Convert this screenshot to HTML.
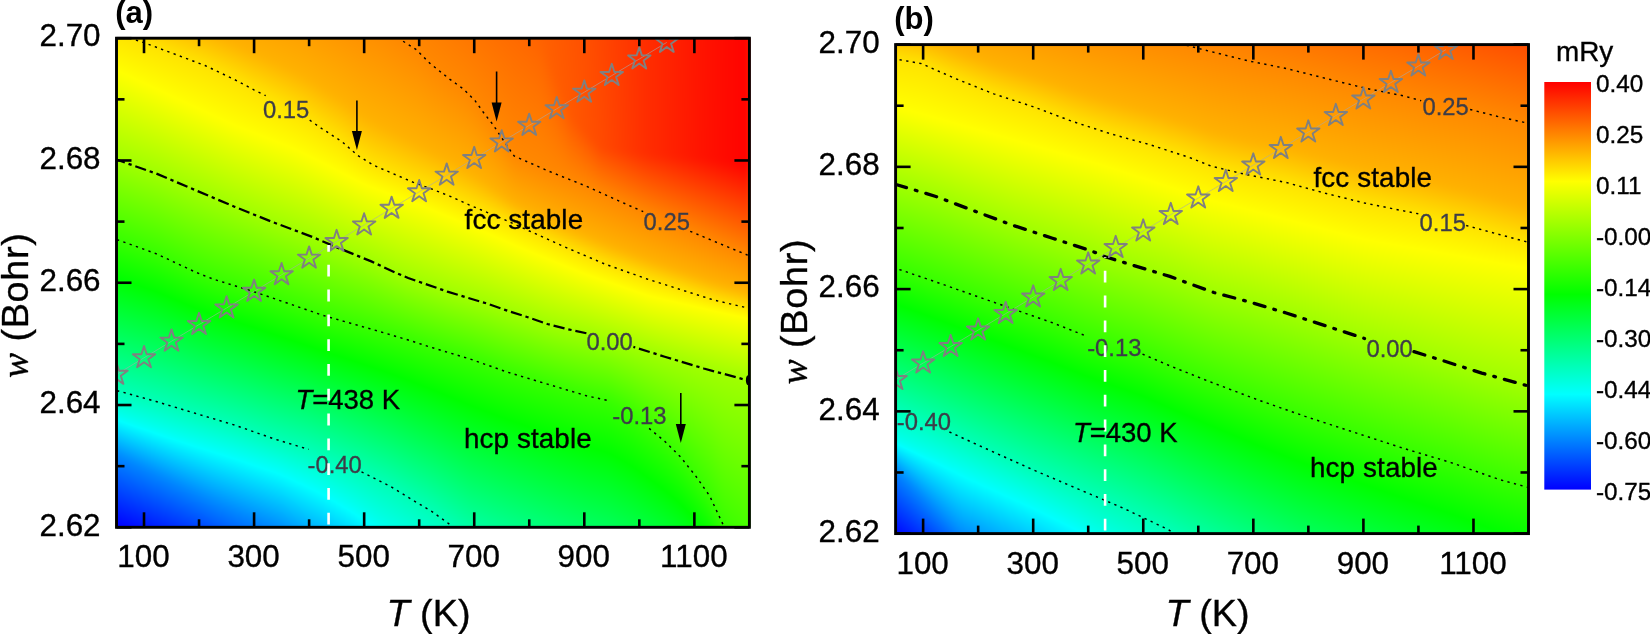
<!DOCTYPE html>
<html><head><meta charset="utf-8"><title>Contour plots</title>
<style>
html,body{margin:0;padding:0;background:#fff;}
body{width:1650px;height:634px;position:relative;overflow:hidden;}
canvas{position:absolute;left:0;top:0;}
svg{position:absolute;left:0;top:0;}
.tk{stroke:#000;stroke-width:2.6;}
.frame{fill:none;stroke:#000;stroke-width:2.9;}
.tl{stroke:#000;stroke-width:0.35px;font-family:'Liberation Sans', Arial, sans-serif;font-size:31.4px;fill:#000;}
.pl{font-family:'Liberation Sans', Arial, sans-serif;font-size:31px;font-weight:bold;fill:#000;}
.at{stroke:#000;stroke-width:0.35px;font-family:'Liberation Sans', Arial, sans-serif;font-size:37.8px;fill:#000;}
.cl{stroke:#3d3d48;stroke-width:0.3px;font-family:'Liberation Sans', Arial, sans-serif;font-size:23.8px;fill:#3d3d48;}
.tx{stroke:#000;stroke-width:0.35px;font-family:'Liberation Sans', Arial, sans-serif;font-size:27.8px;letter-spacing:0.12px;fill:#000;}
.cb{stroke:#000;stroke-width:0.35px;font-family:'Liberation Sans', Arial, sans-serif;font-size:24.3px;fill:#000;}
.mry{stroke:#000;stroke-width:0.35px;font-family:'Liberation Sans', Arial, sans-serif;font-size:27.9px;fill:#000;}
.dot{fill:none;stroke:#000;stroke-width:1.45;stroke-dasharray:2.3 4.37;}
.dda{fill:none;stroke:#000;stroke-width:2.25;stroke-dasharray:11.3 3.9 3.3 3.9;stroke-dashoffset:3;stroke-linecap:butt;}
.ddb{fill:none;stroke:#000;stroke-width:3.3;stroke-dasharray:11.3 9.25 1.7 9.25;stroke-dashoffset:28.65;stroke-linecap:round;}
.wi{font-family:'Liberation Serif',serif;font-style:italic;}
.tx2{stroke:#000;stroke-width:0.35px;font-family:'Liberation Sans', Arial, sans-serif;font-size:27.5px;fill:#000;}
.star{fill:none;stroke:#808080;stroke-width:1.9;stroke-linejoin:round;}
</style></head>
<body>
<svg class="fb" width="1650" height="634" viewBox="0 0 1650 634" style="position:absolute;left:0;top:0"><defs><linearGradient id="f0" x1="0" y1="0" x2="0" y2="1"><stop offset="0.001" stop-color="#ffe600"/><stop offset="0.075" stop-color="#fdff00"/><stop offset="0.312" stop-color="#79ff00"/><stop offset="0.500" stop-color="#00ff05"/><stop offset="0.737" stop-color="#00ffc6"/><stop offset="0.786" stop-color="#00fbff"/><stop offset="0.860" stop-color="#0086ff"/><stop offset="0.999" stop-color="#0004ff"/></linearGradient><linearGradient id="f1" x1="0" y1="0" x2="0" y2="1"><stop offset="0.001" stop-color="#ffe400"/><stop offset="0.083" stop-color="#fcff00"/><stop offset="0.320" stop-color="#77ff00"/><stop offset="0.500" stop-color="#00ff01"/><stop offset="0.737" stop-color="#00ffc1"/><stop offset="0.786" stop-color="#00fffb"/><stop offset="0.868" stop-color="#0084ff"/><stop offset="0.999" stop-color="#0008ff"/></linearGradient><linearGradient id="f2" x1="0" y1="0" x2="0" y2="1"><stop offset="0.001" stop-color="#ffe100"/><stop offset="0.091" stop-color="#fbff00"/><stop offset="0.336" stop-color="#70ff00"/><stop offset="0.508" stop-color="#00ff04"/><stop offset="0.745" stop-color="#00ffc6"/><stop offset="0.794" stop-color="#00fdff"/><stop offset="0.876" stop-color="#0083ff"/><stop offset="0.999" stop-color="#000dff"/></linearGradient><linearGradient id="f3" x1="0" y1="0" x2="0" y2="1"><stop offset="0.001" stop-color="#ffde00"/><stop offset="0.099" stop-color="#fbff00"/><stop offset="0.353" stop-color="#69ff00"/><stop offset="0.508" stop-color="#01ff00"/><stop offset="0.754" stop-color="#00ffca"/><stop offset="0.794" stop-color="#00fff9"/><stop offset="0.819" stop-color="#00e0ff"/><stop offset="0.884" stop-color="#0081ff"/><stop offset="0.999" stop-color="#0013ff"/></linearGradient><linearGradient id="f4" x1="0" y1="0" x2="0" y2="1"><stop offset="0.001" stop-color="#ffda00"/><stop offset="0.107" stop-color="#faff00"/><stop offset="0.361" stop-color="#67ff00"/><stop offset="0.516" stop-color="#00ff03"/><stop offset="0.754" stop-color="#00ffc5"/><stop offset="0.803" stop-color="#00fffe"/><stop offset="0.893" stop-color="#0080ff"/><stop offset="0.999" stop-color="#0019ff"/></linearGradient><linearGradient id="f5" x1="0" y1="0" x2="0" y2="1"><stop offset="0.001" stop-color="#ffd700"/><stop offset="0.099" stop-color="#fffd00"/><stop offset="0.345" stop-color="#74ff00"/><stop offset="0.525" stop-color="#00ff05"/><stop offset="0.762" stop-color="#00ffca"/><stop offset="0.811" stop-color="#00fcff"/><stop offset="0.901" stop-color="#007fff"/><stop offset="0.999" stop-color="#001fff"/></linearGradient><linearGradient id="f6" x1="0" y1="0" x2="0" y2="1"><stop offset="0.001" stop-color="#ffd300"/><stop offset="0.058" stop-color="#ffee00"/><stop offset="0.116" stop-color="#fcff00"/><stop offset="0.385" stop-color="#5eff00"/><stop offset="0.525" stop-color="#00ff01"/><stop offset="0.770" stop-color="#00ffce"/><stop offset="0.811" stop-color="#00fffc"/><stop offset="0.917" stop-color="#0075ff"/><stop offset="0.999" stop-color="#0025ff"/></linearGradient><linearGradient id="f7" x1="0" y1="0" x2="0" y2="1"><stop offset="0.001" stop-color="#ffcf00"/><stop offset="0.058" stop-color="#ffec00"/><stop offset="0.124" stop-color="#fcff00"/><stop offset="0.410" stop-color="#53ff00"/><stop offset="0.533" stop-color="#00ff02"/><stop offset="0.770" stop-color="#00ffc9"/><stop offset="0.819" stop-color="#00feff"/><stop offset="0.917" stop-color="#007cff"/><stop offset="0.999" stop-color="#002bff"/></linearGradient><linearGradient id="f8" x1="0" y1="0" x2="0" y2="1"><stop offset="0.001" stop-color="#ffcb00"/><stop offset="0.058" stop-color="#ffeb00"/><stop offset="0.132" stop-color="#fbff00"/><stop offset="0.443" stop-color="#43ff00"/><stop offset="0.541" stop-color="#00ff04"/><stop offset="0.778" stop-color="#00ffcd"/><stop offset="0.827" stop-color="#00faff"/><stop offset="0.934" stop-color="#0072ff"/><stop offset="0.999" stop-color="#0031ff"/></linearGradient><linearGradient id="f9" x1="0" y1="0" x2="0" y2="1"><stop offset="0.001" stop-color="#ffc700"/><stop offset="0.058" stop-color="#ffe900"/><stop offset="0.140" stop-color="#faff00"/><stop offset="0.459" stop-color="#3cff00"/><stop offset="0.549" stop-color="#00ff06"/><stop offset="0.786" stop-color="#00ffd1"/><stop offset="0.827" stop-color="#00fffe"/><stop offset="0.942" stop-color="#0071ff"/><stop offset="0.999" stop-color="#0037ff"/></linearGradient><linearGradient id="f10" x1="0" y1="0" x2="0" y2="1"><stop offset="0.001" stop-color="#ffc400"/><stop offset="0.066" stop-color="#ffea00"/><stop offset="0.148" stop-color="#f9ff00"/><stop offset="0.475" stop-color="#36ff00"/><stop offset="0.549" stop-color="#00ff01"/><stop offset="0.786" stop-color="#00ffcd"/><stop offset="0.835" stop-color="#00fbff"/><stop offset="0.950" stop-color="#0070ff"/><stop offset="0.999" stop-color="#003eff"/></linearGradient><linearGradient id="f11" x1="0" y1="0" x2="0" y2="1"><stop offset="0.001" stop-color="#ffc000"/><stop offset="0.066" stop-color="#ffe800"/><stop offset="0.148" stop-color="#fdff00"/><stop offset="0.484" stop-color="#35ff00"/><stop offset="0.557" stop-color="#00ff03"/><stop offset="0.794" stop-color="#00ffd1"/><stop offset="0.835" stop-color="#00fffd"/><stop offset="0.974" stop-color="#005dff"/><stop offset="0.999" stop-color="#0044ff"/></linearGradient><linearGradient id="f12" x1="0" y1="0" x2="0" y2="1"><stop offset="0.001" stop-color="#ffbc00"/><stop offset="0.075" stop-color="#ffe900"/><stop offset="0.156" stop-color="#fcff00"/><stop offset="0.492" stop-color="#33ff00"/><stop offset="0.565" stop-color="#00ff05"/><stop offset="0.803" stop-color="#00ffd5"/><stop offset="0.844" stop-color="#00fcff"/><stop offset="0.974" stop-color="#0065ff"/><stop offset="0.999" stop-color="#004cff"/></linearGradient><linearGradient id="f13" x1="0" y1="0" x2="0" y2="1"><stop offset="0.001" stop-color="#ffb800"/><stop offset="0.075" stop-color="#ffe700"/><stop offset="0.165" stop-color="#fbff00"/><stop offset="0.492" stop-color="#37ff00"/><stop offset="0.565" stop-color="#00ff01"/><stop offset="0.803" stop-color="#00ffd0"/><stop offset="0.844" stop-color="#00fffc"/><stop offset="0.999" stop-color="#0053ff"/></linearGradient><linearGradient id="f14" x1="0" y1="0" x2="0" y2="1"><stop offset="0.001" stop-color="#ffb500"/><stop offset="0.083" stop-color="#ffe700"/><stop offset="0.173" stop-color="#faff00"/><stop offset="0.492" stop-color="#3aff00"/><stop offset="0.574" stop-color="#00ff04"/><stop offset="0.811" stop-color="#00ffd5"/><stop offset="0.852" stop-color="#00fdff"/><stop offset="0.999" stop-color="#005aff"/></linearGradient><linearGradient id="f15" x1="0" y1="0" x2="0" y2="1"><stop offset="0.001" stop-color="#ffb200"/><stop offset="0.091" stop-color="#ffe700"/><stop offset="0.181" stop-color="#faff00"/><stop offset="0.500" stop-color="#38ff00"/><stop offset="0.574" stop-color="#01ff00"/><stop offset="0.811" stop-color="#00ffd0"/><stop offset="0.860" stop-color="#00f9ff"/><stop offset="0.999" stop-color="#0061ff"/></linearGradient><linearGradient id="f16" x1="0" y1="0" x2="0" y2="1"><stop offset="0.001" stop-color="#ffb000"/><stop offset="0.099" stop-color="#ffe800"/><stop offset="0.181" stop-color="#fdff00"/><stop offset="0.484" stop-color="#45ff00"/><stop offset="0.582" stop-color="#00ff03"/><stop offset="0.819" stop-color="#00ffd4"/><stop offset="0.860" stop-color="#00feff"/><stop offset="0.999" stop-color="#0068ff"/></linearGradient><linearGradient id="f17" x1="0" y1="0" x2="0" y2="1"><stop offset="0.001" stop-color="#ffae00"/><stop offset="0.116" stop-color="#ffeb00"/><stop offset="0.189" stop-color="#fcff00"/><stop offset="0.475" stop-color="#4eff00"/><stop offset="0.582" stop-color="#01ff00"/><stop offset="0.819" stop-color="#00ffcf"/><stop offset="0.868" stop-color="#00faff"/><stop offset="0.999" stop-color="#006eff"/></linearGradient><linearGradient id="f18" x1="0" y1="0" x2="0" y2="1"><stop offset="0.001" stop-color="#ffac00"/><stop offset="0.066" stop-color="#ffce00"/><stop offset="0.132" stop-color="#ffed00"/><stop offset="0.197" stop-color="#faff00"/><stop offset="0.467" stop-color="#56ff00"/><stop offset="0.590" stop-color="#00ff02"/><stop offset="0.827" stop-color="#00ffd3"/><stop offset="0.868" stop-color="#00fffe"/><stop offset="0.999" stop-color="#0074ff"/></linearGradient><linearGradient id="f19" x1="0" y1="0" x2="0" y2="1"><stop offset="0.001" stop-color="#ffab00"/><stop offset="0.058" stop-color="#ffc400"/><stop offset="0.132" stop-color="#ffeb00"/><stop offset="0.206" stop-color="#f9ff00"/><stop offset="0.459" stop-color="#5fff00"/><stop offset="0.598" stop-color="#00ff05"/><stop offset="0.827" stop-color="#00ffce"/><stop offset="0.876" stop-color="#00fcff"/><stop offset="0.999" stop-color="#007aff"/></linearGradient><linearGradient id="f20" x1="0" y1="0" x2="0" y2="1"><stop offset="0.001" stop-color="#ffaa00"/><stop offset="0.058" stop-color="#ffc000"/><stop offset="0.132" stop-color="#ffe900"/><stop offset="0.206" stop-color="#fcff00"/><stop offset="0.451" stop-color="#67ff00"/><stop offset="0.598" stop-color="#00ff01"/><stop offset="0.835" stop-color="#00ffd1"/><stop offset="0.876" stop-color="#00fffd"/><stop offset="0.999" stop-color="#0080ff"/></linearGradient><linearGradient id="f21" x1="0" y1="0" x2="0" y2="1"><stop offset="0.001" stop-color="#ffa800"/><stop offset="0.058" stop-color="#ffbc00"/><stop offset="0.140" stop-color="#ffea00"/><stop offset="0.214" stop-color="#fbff00"/><stop offset="0.451" stop-color="#6bff00"/><stop offset="0.606" stop-color="#00ff04"/><stop offset="0.835" stop-color="#00ffcc"/><stop offset="0.884" stop-color="#00feff"/><stop offset="0.999" stop-color="#0085ff"/></linearGradient><linearGradient id="f22" x1="0" y1="0" x2="0" y2="1"><stop offset="0.001" stop-color="#ffa700"/><stop offset="0.066" stop-color="#ffbd00"/><stop offset="0.148" stop-color="#ffea00"/><stop offset="0.222" stop-color="#f9ff00"/><stop offset="0.459" stop-color="#69ff00"/><stop offset="0.606" stop-color="#01ff00"/><stop offset="0.844" stop-color="#00ffd0"/><stop offset="0.893" stop-color="#00faff"/><stop offset="0.999" stop-color="#008bff"/></linearGradient><linearGradient id="f23" x1="0" y1="0" x2="0" y2="1"><stop offset="0.001" stop-color="#ffa500"/><stop offset="0.075" stop-color="#ffbe00"/><stop offset="0.165" stop-color="#ffed00"/><stop offset="0.222" stop-color="#fcff00"/><stop offset="0.459" stop-color="#6cff00"/><stop offset="0.615" stop-color="#00ff03"/><stop offset="0.844" stop-color="#00ffcb"/><stop offset="0.893" stop-color="#00fffe"/><stop offset="0.999" stop-color="#0092ff"/></linearGradient><linearGradient id="f24" x1="0" y1="0" x2="0" y2="1"><stop offset="0.001" stop-color="#ffa400"/><stop offset="0.075" stop-color="#ffb900"/><stop offset="0.173" stop-color="#ffee00"/><stop offset="0.230" stop-color="#fbff00"/><stop offset="0.467" stop-color="#6aff00"/><stop offset="0.615" stop-color="#01ff00"/><stop offset="0.852" stop-color="#00ffce"/><stop offset="0.901" stop-color="#00feff"/><stop offset="0.999" stop-color="#009aff"/></linearGradient><linearGradient id="f25" x1="0" y1="0" x2="0" y2="1"><stop offset="0.001" stop-color="#ffa300"/><stop offset="0.083" stop-color="#ffba00"/><stop offset="0.181" stop-color="#ffee00"/><stop offset="0.238" stop-color="#faff00"/><stop offset="0.467" stop-color="#6eff00"/><stop offset="0.623" stop-color="#00ff02"/><stop offset="0.868" stop-color="#00ffd9"/><stop offset="0.909" stop-color="#00fdff"/><stop offset="0.999" stop-color="#00a2ff"/></linearGradient><linearGradient id="f26" x1="0" y1="0" x2="0" y2="1"><stop offset="0.001" stop-color="#ffa100"/><stop offset="0.091" stop-color="#ffba00"/><stop offset="0.189" stop-color="#ffee00"/><stop offset="0.246" stop-color="#f9ff00"/><stop offset="0.484" stop-color="#66ff00"/><stop offset="0.631" stop-color="#00ff04"/><stop offset="0.893" stop-color="#00ffeb"/><stop offset="0.917" stop-color="#00fbff"/><stop offset="0.999" stop-color="#00aaff"/></linearGradient><linearGradient id="f27" x1="0" y1="0" x2="0" y2="1"><stop offset="0.001" stop-color="#ffa000"/><stop offset="0.099" stop-color="#ffba00"/><stop offset="0.206" stop-color="#fff100"/><stop offset="0.255" stop-color="#f9ff00"/><stop offset="0.500" stop-color="#5fff00"/><stop offset="0.631" stop-color="#00ff01"/><stop offset="0.925" stop-color="#00faff"/><stop offset="0.999" stop-color="#00b2ff"/></linearGradient><linearGradient id="f28" x1="0" y1="0" x2="0" y2="1"><stop offset="0.001" stop-color="#ff9e00"/><stop offset="0.107" stop-color="#ffb900"/><stop offset="0.214" stop-color="#fff100"/><stop offset="0.263" stop-color="#f8ff00"/><stop offset="0.516" stop-color="#57ff00"/><stop offset="0.639" stop-color="#00ff03"/><stop offset="0.925" stop-color="#00fffd"/><stop offset="0.999" stop-color="#00b9ff"/></linearGradient><linearGradient id="f29" x1="0" y1="0" x2="0" y2="1"><stop offset="0.001" stop-color="#ff9c00"/><stop offset="0.116" stop-color="#ffb900"/><stop offset="0.230" stop-color="#fff400"/><stop offset="0.271" stop-color="#f7ff00"/><stop offset="0.516" stop-color="#5bff00"/><stop offset="0.639" stop-color="#01ff00"/><stop offset="0.934" stop-color="#00fffe"/><stop offset="0.999" stop-color="#00c1ff"/></linearGradient><linearGradient id="f30" x1="0" y1="0" x2="0" y2="1"><stop offset="0.001" stop-color="#ff9a00"/><stop offset="0.124" stop-color="#ffb800"/><stop offset="0.246" stop-color="#fff700"/><stop offset="0.279" stop-color="#f7ff00"/><stop offset="0.508" stop-color="#64ff00"/><stop offset="0.647" stop-color="#00ff02"/><stop offset="0.942" stop-color="#00fffd"/><stop offset="0.999" stop-color="#00c9ff"/></linearGradient><linearGradient id="f31" x1="0" y1="0" x2="0" y2="1"><stop offset="0.001" stop-color="#ff9800"/><stop offset="0.132" stop-color="#ffb800"/><stop offset="0.263" stop-color="#fffb00"/><stop offset="0.385" stop-color="#baff00"/><stop offset="0.655" stop-color="#00ff05"/><stop offset="0.950" stop-color="#00fffd"/><stop offset="0.999" stop-color="#00d1ff"/></linearGradient><linearGradient id="f32" x1="0" y1="0" x2="0" y2="1"><stop offset="0.001" stop-color="#ff9700"/><stop offset="0.148" stop-color="#ffbb00"/><stop offset="0.279" stop-color="#feff00"/><stop offset="0.500" stop-color="#71ff00"/><stop offset="0.655" stop-color="#00ff01"/><stop offset="0.958" stop-color="#00fffd"/><stop offset="0.999" stop-color="#00d9ff"/></linearGradient><linearGradient id="f33" x1="0" y1="0" x2="0" y2="1"><stop offset="0.001" stop-color="#ff9500"/><stop offset="0.156" stop-color="#ffba00"/><stop offset="0.296" stop-color="#faff00"/><stop offset="0.516" stop-color="#68ff00"/><stop offset="0.664" stop-color="#00ff04"/><stop offset="0.966" stop-color="#00fffc"/><stop offset="0.999" stop-color="#00e2ff"/></linearGradient><linearGradient id="f34" x1="0" y1="0" x2="0" y2="1"><stop offset="0.001" stop-color="#ff9300"/><stop offset="0.165" stop-color="#ffb900"/><stop offset="0.296" stop-color="#feff00"/><stop offset="0.508" stop-color="#72ff00"/><stop offset="0.664" stop-color="#01ff00"/><stop offset="0.983" stop-color="#00fbff"/><stop offset="0.999" stop-color="#00ebff"/></linearGradient><linearGradient id="f35" x1="0" y1="0" x2="0" y2="1"><stop offset="0.001" stop-color="#ff9100"/><stop offset="0.173" stop-color="#ffb800"/><stop offset="0.304" stop-color="#fdff00"/><stop offset="0.516" stop-color="#70ff00"/><stop offset="0.672" stop-color="#00ff03"/><stop offset="0.942" stop-color="#00ffd9"/><stop offset="0.991" stop-color="#00fdfe"/><stop offset="0.999" stop-color="#00f5ff"/></linearGradient><linearGradient id="f36" x1="0" y1="0" x2="0" y2="1"><stop offset="0.001" stop-color="#ff9000"/><stop offset="0.181" stop-color="#ffb800"/><stop offset="0.312" stop-color="#fbff00"/><stop offset="0.516" stop-color="#74ff00"/><stop offset="0.680" stop-color="#00ff05"/><stop offset="0.942" stop-color="#00ffd3"/><stop offset="0.999" stop-color="#00fefd"/></linearGradient><linearGradient id="f37" x1="0" y1="0" x2="0" y2="1"><stop offset="0.001" stop-color="#ff8e00"/><stop offset="0.189" stop-color="#ffb900"/><stop offset="0.320" stop-color="#faff00"/><stop offset="0.508" stop-color="#7eff00"/><stop offset="0.680" stop-color="#00ff01"/><stop offset="0.942" stop-color="#00ffcd"/><stop offset="0.999" stop-color="#00fff4"/></linearGradient><linearGradient id="f38" x1="0" y1="0" x2="0" y2="1"><stop offset="0.001" stop-color="#ff8c00"/><stop offset="0.197" stop-color="#ffb900"/><stop offset="0.320" stop-color="#fdff00"/><stop offset="0.508" stop-color="#83ff00"/><stop offset="0.680" stop-color="#02ff00"/><stop offset="0.950" stop-color="#00ffcd"/><stop offset="0.999" stop-color="#00ffec"/></linearGradient><linearGradient id="f39" x1="0" y1="0" x2="0" y2="1"><stop offset="0.001" stop-color="#ff8a00"/><stop offset="0.206" stop-color="#ffb900"/><stop offset="0.328" stop-color="#fbff00"/><stop offset="0.508" stop-color="#87ff00"/><stop offset="0.688" stop-color="#01ff00"/><stop offset="0.950" stop-color="#00ffc8"/><stop offset="0.999" stop-color="#00ffe6"/></linearGradient><linearGradient id="f40" x1="0" y1="0" x2="0" y2="1"><stop offset="0.001" stop-color="#ff8900"/><stop offset="0.214" stop-color="#ffba00"/><stop offset="0.328" stop-color="#feff00"/><stop offset="0.508" stop-color="#8cff00"/><stop offset="0.680" stop-color="#0aff00"/><stop offset="0.704" stop-color="#00ff08"/><stop offset="0.966" stop-color="#00ffcc"/><stop offset="0.999" stop-color="#00ffe0"/></linearGradient><linearGradient id="f41" x1="0" y1="0" x2="0" y2="1"><stop offset="0.001" stop-color="#ff8800"/><stop offset="0.214" stop-color="#ffb600"/><stop offset="0.336" stop-color="#fcff00"/><stop offset="0.516" stop-color="#8aff00"/><stop offset="0.672" stop-color="#13ff00"/><stop offset="0.704" stop-color="#00ff04"/><stop offset="0.974" stop-color="#00ffcc"/><stop offset="0.999" stop-color="#00ffdb"/></linearGradient><linearGradient id="f42" x1="0" y1="0" x2="0" y2="1"><stop offset="0.001" stop-color="#ff8600"/><stop offset="0.222" stop-color="#ffb700"/><stop offset="0.345" stop-color="#fbff00"/><stop offset="0.516" stop-color="#8eff00"/><stop offset="0.664" stop-color="#1bff00"/><stop offset="0.713" stop-color="#00ff06"/><stop offset="0.983" stop-color="#00ffcb"/><stop offset="0.999" stop-color="#00ffd5"/></linearGradient><linearGradient id="f43" x1="0" y1="0" x2="0" y2="1"><stop offset="0.001" stop-color="#ff8400"/><stop offset="0.230" stop-color="#ffb700"/><stop offset="0.345" stop-color="#feff00"/><stop offset="0.525" stop-color="#8bff00"/><stop offset="0.672" stop-color="#19ff00"/><stop offset="0.713" stop-color="#00ff02"/><stop offset="0.999" stop-color="#00ffd0"/></linearGradient><linearGradient id="f44" x1="0" y1="0" x2="0" y2="1"><stop offset="0.001" stop-color="#ff8300"/><stop offset="0.238" stop-color="#ffb800"/><stop offset="0.353" stop-color="#fdff00"/><stop offset="0.533" stop-color="#89ff00"/><stop offset="0.672" stop-color="#1dff00"/><stop offset="0.721" stop-color="#00ff03"/><stop offset="0.999" stop-color="#00ffcb"/></linearGradient><linearGradient id="f45" x1="0" y1="0" x2="0" y2="1"><stop offset="0.001" stop-color="#ff8100"/><stop offset="0.230" stop-color="#ffb100"/><stop offset="0.361" stop-color="#fbff00"/><stop offset="0.533" stop-color="#8dff00"/><stop offset="0.672" stop-color="#20ff00"/><stop offset="0.729" stop-color="#00ff05"/><stop offset="0.999" stop-color="#00ffc6"/></linearGradient><linearGradient id="f46" x1="0" y1="0" x2="0" y2="1"><stop offset="0.001" stop-color="#ff7f00"/><stop offset="0.222" stop-color="#ffac00"/><stop offset="0.279" stop-color="#ffc900"/><stop offset="0.369" stop-color="#faff00"/><stop offset="0.541" stop-color="#8aff00"/><stop offset="0.672" stop-color="#23ff00"/><stop offset="0.729" stop-color="#00ff01"/><stop offset="0.999" stop-color="#00ffc0"/></linearGradient><linearGradient id="f47" x1="0" y1="0" x2="0" y2="1"><stop offset="0.001" stop-color="#ff7d00"/><stop offset="0.197" stop-color="#ffa400"/><stop offset="0.263" stop-color="#ffba00"/><stop offset="0.369" stop-color="#fdff00"/><stop offset="0.541" stop-color="#8eff00"/><stop offset="0.672" stop-color="#26ff00"/><stop offset="0.737" stop-color="#00ff03"/><stop offset="0.999" stop-color="#00ffb9"/></linearGradient><linearGradient id="f48" x1="0" y1="0" x2="0" y2="1"><stop offset="0.001" stop-color="#ff7b00"/><stop offset="0.197" stop-color="#ffa200"/><stop offset="0.271" stop-color="#ffba00"/><stop offset="0.377" stop-color="#fcff00"/><stop offset="0.549" stop-color="#8bff00"/><stop offset="0.672" stop-color="#29ff00"/><stop offset="0.745" stop-color="#00ff04"/><stop offset="0.999" stop-color="#00ffb2"/></linearGradient><linearGradient id="f49" x1="0" y1="0" x2="0" y2="1"><stop offset="0.001" stop-color="#ff7900"/><stop offset="0.189" stop-color="#ff9e00"/><stop offset="0.279" stop-color="#ffba00"/><stop offset="0.385" stop-color="#fbff00"/><stop offset="0.557" stop-color="#87ff00"/><stop offset="0.680" stop-color="#27ff00"/><stop offset="0.754" stop-color="#00ff05"/><stop offset="0.999" stop-color="#00ffaa"/></linearGradient><linearGradient id="f50" x1="0" y1="0" x2="0" y2="1"><stop offset="0.001" stop-color="#ff7700"/><stop offset="0.189" stop-color="#ff9b00"/><stop offset="0.287" stop-color="#ffba00"/><stop offset="0.385" stop-color="#feff00"/><stop offset="0.565" stop-color="#84ff00"/><stop offset="0.680" stop-color="#2aff00"/><stop offset="0.754" stop-color="#00ff01"/><stop offset="0.999" stop-color="#00ffa4"/></linearGradient><linearGradient id="f51" x1="0" y1="0" x2="0" y2="1"><stop offset="0.001" stop-color="#ff7500"/><stop offset="0.189" stop-color="#ff9700"/><stop offset="0.296" stop-color="#ffba00"/><stop offset="0.394" stop-color="#fdff00"/><stop offset="0.574" stop-color="#81ff00"/><stop offset="0.688" stop-color="#28ff00"/><stop offset="0.762" stop-color="#00ff03"/><stop offset="0.999" stop-color="#00ff9f"/></linearGradient><linearGradient id="f52" x1="0" y1="0" x2="0" y2="1"><stop offset="0.001" stop-color="#ff7300"/><stop offset="0.197" stop-color="#ff9500"/><stop offset="0.304" stop-color="#ffba00"/><stop offset="0.394" stop-color="#fffd00"/><stop offset="0.574" stop-color="#85ff00"/><stop offset="0.688" stop-color="#2bff00"/><stop offset="0.770" stop-color="#00ff05"/><stop offset="0.999" stop-color="#00ff9b"/></linearGradient><linearGradient id="f53" x1="0" y1="0" x2="0" y2="1"><stop offset="0.001" stop-color="#ff7100"/><stop offset="0.206" stop-color="#ff9200"/><stop offset="0.312" stop-color="#ffb900"/><stop offset="0.402" stop-color="#fffe00"/><stop offset="0.582" stop-color="#82ff00"/><stop offset="0.696" stop-color="#29ff00"/><stop offset="0.770" stop-color="#00ff01"/><stop offset="0.999" stop-color="#00ff97"/></linearGradient><linearGradient id="f54" x1="0" y1="0" x2="0" y2="1"><stop offset="0.001" stop-color="#ff6f00"/><stop offset="0.222" stop-color="#ff9200"/><stop offset="0.320" stop-color="#ffb800"/><stop offset="0.394" stop-color="#fff500"/><stop offset="0.426" stop-color="#f4ff00"/><stop offset="0.590" stop-color="#7fff00"/><stop offset="0.704" stop-color="#27ff00"/><stop offset="0.778" stop-color="#00ff03"/><stop offset="0.999" stop-color="#00ff92"/></linearGradient><linearGradient id="f55" x1="0" y1="0" x2="0" y2="1"><stop offset="0.001" stop-color="#ff6d00"/><stop offset="0.238" stop-color="#ff9100"/><stop offset="0.328" stop-color="#ffb600"/><stop offset="0.394" stop-color="#fff100"/><stop offset="0.426" stop-color="#f8ff00"/><stop offset="0.606" stop-color="#76ff00"/><stop offset="0.704" stop-color="#2aff00"/><stop offset="0.786" stop-color="#00ff05"/><stop offset="0.999" stop-color="#00ff8e"/></linearGradient><linearGradient id="f56" x1="0" y1="0" x2="0" y2="1"><stop offset="0.001" stop-color="#ff6b00"/><stop offset="0.255" stop-color="#ff9000"/><stop offset="0.336" stop-color="#ffb500"/><stop offset="0.402" stop-color="#fff200"/><stop offset="0.435" stop-color="#f7ff00"/><stop offset="0.615" stop-color="#73ff00"/><stop offset="0.713" stop-color="#28ff00"/><stop offset="0.786" stop-color="#00ff02"/><stop offset="0.999" stop-color="#00ff8a"/></linearGradient><linearGradient id="f57" x1="0" y1="0" x2="0" y2="1"><stop offset="0.001" stop-color="#ff6900"/><stop offset="0.263" stop-color="#ff8f00"/><stop offset="0.345" stop-color="#ffb500"/><stop offset="0.402" stop-color="#ffee00"/><stop offset="0.435" stop-color="#fbff00"/><stop offset="0.615" stop-color="#77ff00"/><stop offset="0.713" stop-color="#2bff00"/><stop offset="0.794" stop-color="#00ff04"/><stop offset="0.999" stop-color="#00ff86"/></linearGradient><linearGradient id="f58" x1="0" y1="0" x2="0" y2="1"><stop offset="0.001" stop-color="#ff6700"/><stop offset="0.271" stop-color="#ff9000"/><stop offset="0.353" stop-color="#ffb600"/><stop offset="0.410" stop-color="#ffef00"/><stop offset="0.443" stop-color="#f9ff00"/><stop offset="0.623" stop-color="#74ff00"/><stop offset="0.721" stop-color="#29ff00"/><stop offset="0.803" stop-color="#00ff06"/><stop offset="0.999" stop-color="#00ff82"/></linearGradient><linearGradient id="f59" x1="0" y1="0" x2="0" y2="1"><stop offset="0.001" stop-color="#ff6500"/><stop offset="0.271" stop-color="#ff8e00"/><stop offset="0.361" stop-color="#ffb800"/><stop offset="0.418" stop-color="#fff000"/><stop offset="0.451" stop-color="#f8ff00"/><stop offset="0.631" stop-color="#71ff00"/><stop offset="0.721" stop-color="#2bff00"/><stop offset="0.803" stop-color="#00ff03"/><stop offset="0.999" stop-color="#00ff7f"/></linearGradient><linearGradient id="f60" x1="0" y1="0" x2="0" y2="1"><stop offset="0.001" stop-color="#ff6200"/><stop offset="0.279" stop-color="#ff8e00"/><stop offset="0.369" stop-color="#ffba00"/><stop offset="0.426" stop-color="#fff200"/><stop offset="0.459" stop-color="#f6ff00"/><stop offset="0.639" stop-color="#6eff00"/><stop offset="0.729" stop-color="#29ff00"/><stop offset="0.811" stop-color="#00ff05"/><stop offset="0.999" stop-color="#00ff7b"/></linearGradient><linearGradient id="f61" x1="0" y1="0" x2="0" y2="1"><stop offset="0.001" stop-color="#ff5f00"/><stop offset="0.279" stop-color="#ff8c00"/><stop offset="0.369" stop-color="#ffb400"/><stop offset="0.435" stop-color="#fff300"/><stop offset="0.459" stop-color="#faff00"/><stop offset="0.647" stop-color="#6bff00"/><stop offset="0.737" stop-color="#27ff00"/><stop offset="0.811" stop-color="#00ff02"/><stop offset="0.999" stop-color="#00ff77"/></linearGradient><linearGradient id="f62" x1="0" y1="0" x2="0" y2="1"><stop offset="0.001" stop-color="#ff5c00"/><stop offset="0.140" stop-color="#ff6b00"/><stop offset="0.304" stop-color="#ff9300"/><stop offset="0.377" stop-color="#ffb500"/><stop offset="0.435" stop-color="#ffef00"/><stop offset="0.467" stop-color="#f8ff00"/><stop offset="0.664" stop-color="#60ff00"/><stop offset="0.745" stop-color="#25ff00"/><stop offset="0.819" stop-color="#00ff04"/><stop offset="0.999" stop-color="#00ff73"/></linearGradient><linearGradient id="f63" x1="0" y1="0" x2="0" y2="1"><stop offset="0.001" stop-color="#ff5900"/><stop offset="0.148" stop-color="#ff6500"/><stop offset="0.328" stop-color="#ff9b00"/><stop offset="0.385" stop-color="#ffb700"/><stop offset="0.443" stop-color="#fff000"/><stop offset="0.475" stop-color="#f6ff00"/><stop offset="0.696" stop-color="#48ff00"/><stop offset="0.819" stop-color="#00ff01"/><stop offset="0.999" stop-color="#00ff70"/></linearGradient><linearGradient id="f64" x1="0" y1="0" x2="0" y2="1"><stop offset="0.001" stop-color="#ff5600"/><stop offset="0.165" stop-color="#ff5f00"/><stop offset="0.377" stop-color="#ffad00"/><stop offset="0.467" stop-color="#fffe00"/><stop offset="0.696" stop-color="#4cff00"/><stop offset="0.803" stop-color="#0bff00"/><stop offset="0.835" stop-color="#00ff08"/><stop offset="0.999" stop-color="#00ff6c"/></linearGradient><linearGradient id="f65" x1="0" y1="0" x2="0" y2="1"><stop offset="0.001" stop-color="#ff5400"/><stop offset="0.181" stop-color="#ff5b00"/><stop offset="0.394" stop-color="#ffb400"/><stop offset="0.459" stop-color="#fff300"/><stop offset="0.484" stop-color="#f9ff00"/><stop offset="0.745" stop-color="#2cff00"/><stop offset="0.835" stop-color="#00ff05"/><stop offset="0.999" stop-color="#00ff68"/></linearGradient><linearGradient id="f66" x1="0" y1="0" x2="0" y2="1"><stop offset="0.001" stop-color="#ff5100"/><stop offset="0.197" stop-color="#ff5900"/><stop offset="0.402" stop-color="#ffb600"/><stop offset="0.467" stop-color="#fff500"/><stop offset="0.492" stop-color="#f7ff00"/><stop offset="0.745" stop-color="#2fff00"/><stop offset="0.835" stop-color="#00ff02"/><stop offset="0.999" stop-color="#00ff65"/></linearGradient><linearGradient id="f67" x1="0" y1="0" x2="0" y2="1"><stop offset="0.001" stop-color="#ff4d00"/><stop offset="0.206" stop-color="#ff5300"/><stop offset="0.410" stop-color="#ffb700"/><stop offset="0.475" stop-color="#fff700"/><stop offset="0.500" stop-color="#f4ff00"/><stop offset="0.745" stop-color="#31ff00"/><stop offset="0.844" stop-color="#00ff04"/><stop offset="0.999" stop-color="#00ff61"/></linearGradient><linearGradient id="f68" x1="0" y1="0" x2="0" y2="1"><stop offset="0.001" stop-color="#ff4a00"/><stop offset="0.222" stop-color="#ff5100"/><stop offset="0.353" stop-color="#ff9900"/><stop offset="0.418" stop-color="#ffb900"/><stop offset="0.484" stop-color="#fff900"/><stop offset="0.541" stop-color="#d7ff00"/><stop offset="0.754" stop-color="#2eff00"/><stop offset="0.844" stop-color="#00ff01"/><stop offset="0.999" stop-color="#00ff5e"/></linearGradient><linearGradient id="f69" x1="0" y1="0" x2="0" y2="1"><stop offset="0.001" stop-color="#ff4600"/><stop offset="0.230" stop-color="#ff4d00"/><stop offset="0.345" stop-color="#ff9300"/><stop offset="0.426" stop-color="#ffbc00"/><stop offset="0.492" stop-color="#fffc00"/><stop offset="0.754" stop-color="#30ff00"/><stop offset="0.852" stop-color="#00ff04"/><stop offset="0.999" stop-color="#00ff5b"/></linearGradient><linearGradient id="f70" x1="0" y1="0" x2="0" y2="1"><stop offset="0.001" stop-color="#ff4200"/><stop offset="0.230" stop-color="#ff4700"/><stop offset="0.353" stop-color="#ff9400"/><stop offset="0.426" stop-color="#ffb600"/><stop offset="0.500" stop-color="#fffe00"/><stop offset="0.762" stop-color="#2eff00"/><stop offset="0.860" stop-color="#00ff05"/><stop offset="0.999" stop-color="#00ff57"/></linearGradient><linearGradient id="f71" x1="0" y1="0" x2="0" y2="1"><stop offset="0.001" stop-color="#ff3e00"/><stop offset="0.230" stop-color="#ff4200"/><stop offset="0.353" stop-color="#ff9100"/><stop offset="0.435" stop-color="#ffb800"/><stop offset="0.500" stop-color="#fffa00"/><stop offset="0.770" stop-color="#2eff00"/><stop offset="0.868" stop-color="#00ff06"/><stop offset="0.999" stop-color="#00ff53"/></linearGradient><linearGradient id="f72" x1="0" y1="0" x2="0" y2="1"><stop offset="0.001" stop-color="#ff3a00"/><stop offset="0.238" stop-color="#ff4100"/><stop offset="0.361" stop-color="#ff9200"/><stop offset="0.443" stop-color="#ffbb00"/><stop offset="0.508" stop-color="#fffd00"/><stop offset="0.778" stop-color="#2eff00"/><stop offset="0.868" stop-color="#00ff01"/><stop offset="0.999" stop-color="#00ff4e"/></linearGradient><linearGradient id="f73" x1="0" y1="0" x2="0" y2="1"><stop offset="0.001" stop-color="#ff3600"/><stop offset="0.238" stop-color="#ff3b00"/><stop offset="0.361" stop-color="#ff8f00"/><stop offset="0.443" stop-color="#ffb600"/><stop offset="0.508" stop-color="#fff900"/><stop offset="0.557" stop-color="#dcff00"/><stop offset="0.778" stop-color="#33ff00"/><stop offset="0.884" stop-color="#00ff06"/><stop offset="0.999" stop-color="#00ff4a"/></linearGradient><linearGradient id="f74" x1="0" y1="0" x2="0" y2="1"><stop offset="0.001" stop-color="#ff3200"/><stop offset="0.238" stop-color="#ff3600"/><stop offset="0.369" stop-color="#ff9000"/><stop offset="0.451" stop-color="#ffb900"/><stop offset="0.516" stop-color="#fffc00"/><stop offset="0.737" stop-color="#56ff00"/><stop offset="0.876" stop-color="#05ff00"/><stop offset="0.999" stop-color="#00ff44"/></linearGradient><linearGradient id="f75" x1="0" y1="0" x2="0" y2="1"><stop offset="0.001" stop-color="#ff2e00"/><stop offset="0.238" stop-color="#ff3100"/><stop offset="0.377" stop-color="#ff9100"/><stop offset="0.459" stop-color="#ffbc00"/><stop offset="0.516" stop-color="#fff800"/><stop offset="0.541" stop-color="#f2ff00"/><stop offset="0.688" stop-color="#7eff00"/><stop offset="0.844" stop-color="#1cff00"/><stop offset="0.901" stop-color="#00ff03"/><stop offset="0.999" stop-color="#00ff3f"/></linearGradient><linearGradient id="f76" x1="0" y1="0" x2="0" y2="1"><stop offset="0.001" stop-color="#ff2b00"/><stop offset="0.238" stop-color="#ff2d00"/><stop offset="0.385" stop-color="#ff9200"/><stop offset="0.459" stop-color="#ffb700"/><stop offset="0.525" stop-color="#fffb00"/><stop offset="0.696" stop-color="#7dff00"/><stop offset="0.884" stop-color="#0cff00"/><stop offset="0.917" stop-color="#00ff07"/><stop offset="0.999" stop-color="#00ff39"/></linearGradient><linearGradient id="f77" x1="0" y1="0" x2="0" y2="1"><stop offset="0.001" stop-color="#ff2700"/><stop offset="0.238" stop-color="#ff2900"/><stop offset="0.385" stop-color="#ff8f00"/><stop offset="0.467" stop-color="#ffba00"/><stop offset="0.533" stop-color="#ffff00"/><stop offset="0.680" stop-color="#8cff00"/><stop offset="0.917" stop-color="#01ff01"/><stop offset="0.999" stop-color="#00ff33"/></linearGradient><linearGradient id="f78" x1="0" y1="0" x2="0" y2="1"><stop offset="0.001" stop-color="#ff2400"/><stop offset="0.246" stop-color="#ff2900"/><stop offset="0.394" stop-color="#ff9000"/><stop offset="0.467" stop-color="#ffb500"/><stop offset="0.533" stop-color="#fffc00"/><stop offset="0.688" stop-color="#8aff00"/><stop offset="0.934" stop-color="#00ff03"/><stop offset="0.999" stop-color="#00ff2d"/></linearGradient><linearGradient id="f79" x1="0" y1="0" x2="0" y2="1"><stop offset="0.001" stop-color="#ff2100"/><stop offset="0.246" stop-color="#ff2500"/><stop offset="0.402" stop-color="#ff9200"/><stop offset="0.475" stop-color="#ffb800"/><stop offset="0.541" stop-color="#feff00"/><stop offset="0.680" stop-color="#93ff00"/><stop offset="0.942" stop-color="#00ff01"/><stop offset="0.999" stop-color="#00ff26"/></linearGradient><linearGradient id="f80" x1="0" y1="0" x2="0" y2="1"><stop offset="0.001" stop-color="#ff1e00"/><stop offset="0.246" stop-color="#ff2100"/><stop offset="0.410" stop-color="#ff9300"/><stop offset="0.484" stop-color="#ffbc00"/><stop offset="0.541" stop-color="#fffd00"/><stop offset="0.680" stop-color="#96ff00"/><stop offset="0.958" stop-color="#00ff03"/><stop offset="0.999" stop-color="#00ff1e"/></linearGradient><linearGradient id="f81" x1="0" y1="0" x2="0" y2="1"><stop offset="0.001" stop-color="#ff1a00"/><stop offset="0.246" stop-color="#ff1d00"/><stop offset="0.410" stop-color="#ff9000"/><stop offset="0.484" stop-color="#ffb700"/><stop offset="0.549" stop-color="#fcff00"/><stop offset="0.688" stop-color="#94ff00"/><stop offset="0.950" stop-color="#0bff00"/><stop offset="0.983" stop-color="#00ff0a"/><stop offset="0.999" stop-color="#00ff15"/></linearGradient><linearGradient id="f82" x1="0" y1="0" x2="0" y2="1"><stop offset="0.001" stop-color="#ff1700"/><stop offset="0.246" stop-color="#ff1900"/><stop offset="0.418" stop-color="#ff9100"/><stop offset="0.492" stop-color="#ffba00"/><stop offset="0.549" stop-color="#fffe00"/><stop offset="0.688" stop-color="#97ff00"/><stop offset="0.934" stop-color="#1fff00"/><stop offset="0.991" stop-color="#00ff05"/><stop offset="0.999" stop-color="#00ff0b"/></linearGradient><linearGradient id="f83" x1="0" y1="0" x2="0" y2="1"><stop offset="0.001" stop-color="#ff1400"/><stop offset="0.246" stop-color="#ff1600"/><stop offset="0.426" stop-color="#ff9300"/><stop offset="0.492" stop-color="#ffb500"/><stop offset="0.549" stop-color="#fffb00"/><stop offset="0.688" stop-color="#99ff00"/><stop offset="0.942" stop-color="#25ff00"/><stop offset="0.999" stop-color="#02ff01"/></linearGradient><linearGradient id="f84" x1="0" y1="0" x2="0" y2="1"><stop offset="0.001" stop-color="#ff1100"/><stop offset="0.246" stop-color="#ff1200"/><stop offset="0.435" stop-color="#ff9400"/><stop offset="0.500" stop-color="#ffb800"/><stop offset="0.557" stop-color="#feff00"/><stop offset="0.688" stop-color="#9cff00"/><stop offset="0.958" stop-color="#28ff00"/><stop offset="0.999" stop-color="#0dff00"/></linearGradient><linearGradient id="f85" x1="0" y1="0" x2="0" y2="1"><stop offset="0.001" stop-color="#ff0e00"/><stop offset="0.255" stop-color="#ff1200"/><stop offset="0.443" stop-color="#ff9500"/><stop offset="0.508" stop-color="#ffbd00"/><stop offset="0.557" stop-color="#fffd00"/><stop offset="0.696" stop-color="#9aff00"/><stop offset="0.974" stop-color="#2eff00"/><stop offset="0.999" stop-color="#1eff00"/></linearGradient><linearGradient id="f86" x1="0" y1="0" x2="0" y2="1"><stop offset="0.001" stop-color="#ff0c00"/><stop offset="0.255" stop-color="#ff0f00"/><stop offset="0.451" stop-color="#ff9600"/><stop offset="0.508" stop-color="#ffb800"/><stop offset="0.565" stop-color="#fcff00"/><stop offset="0.696" stop-color="#9cff00"/><stop offset="0.999" stop-color="#30ff00"/></linearGradient><linearGradient id="f87" x1="0" y1="0" x2="0" y2="1"><stop offset="0.001" stop-color="#ff0900"/><stop offset="0.255" stop-color="#ff0b00"/><stop offset="0.459" stop-color="#ff9800"/><stop offset="0.516" stop-color="#ffbd00"/><stop offset="0.565" stop-color="#fffe00"/><stop offset="0.696" stop-color="#9eff00"/><stop offset="0.999" stop-color="#3bff00"/></linearGradient><linearGradient id="f88" x1="0" y1="0" x2="0" y2="1"><stop offset="0.001" stop-color="#ff0600"/><stop offset="0.255" stop-color="#ff0800"/><stop offset="0.467" stop-color="#ff9900"/><stop offset="0.516" stop-color="#ffb800"/><stop offset="0.565" stop-color="#fffb00"/><stop offset="0.704" stop-color="#9cff00"/><stop offset="0.999" stop-color="#40ff00"/></linearGradient><linearGradient id="f89" x1="0" y1="0" x2="0" y2="1"><stop offset="0.001" stop-color="#ff0600"/><stop offset="0.263" stop-color="#ff0a00"/><stop offset="0.475" stop-color="#ff9b00"/><stop offset="0.525" stop-color="#ffbd00"/><stop offset="0.574" stop-color="#fdff00"/><stop offset="0.704" stop-color="#9eff00"/><stop offset="0.999" stop-color="#45ff00"/></linearGradient><linearGradient id="f90" x1="0" y1="0" x2="0" y2="1"><stop offset="0.001" stop-color="#ff1400"/><stop offset="0.263" stop-color="#ff1700"/><stop offset="0.525" stop-color="#ffba00"/><stop offset="0.574" stop-color="#fffe00"/><stop offset="0.704" stop-color="#9fff00"/><stop offset="0.999" stop-color="#48ff00"/></linearGradient><linearGradient id="f91" x1="0" y1="0" x2="0" y2="1"><stop offset="0.001" stop-color="#ffc700"/><stop offset="0.042" stop-color="#ffe600"/><stop offset="0.140" stop-color="#faff00"/><stop offset="0.500" stop-color="#1aff00"/><stop offset="0.541" stop-color="#00ff05"/><stop offset="0.811" stop-color="#00ffef"/><stop offset="0.825" stop-color="#00f6ff"/><stop offset="0.882" stop-color="#0087ff"/><stop offset="0.997" stop-color="#0011ff"/><stop offset="0.999" stop-color="#000fff"/></linearGradient><linearGradient id="f92" x1="0" y1="0" x2="0" y2="1"><stop offset="0.001" stop-color="#ffc500"/><stop offset="0.042" stop-color="#ffe500"/><stop offset="0.140" stop-color="#fcff00"/><stop offset="0.500" stop-color="#1eff00"/><stop offset="0.541" stop-color="#00ff01"/><stop offset="0.819" stop-color="#00fff2"/><stop offset="0.833" stop-color="#00f4ff"/><stop offset="0.899" stop-color="#0083ff"/><stop offset="0.997" stop-color="#001cff"/><stop offset="0.999" stop-color="#001aff"/></linearGradient><linearGradient id="f93" x1="0" y1="0" x2="0" y2="1"><stop offset="0.001" stop-color="#ffc200"/><stop offset="0.050" stop-color="#ffe700"/><stop offset="0.148" stop-color="#faff00"/><stop offset="0.508" stop-color="#1cff00"/><stop offset="0.549" stop-color="#00ff03"/><stop offset="0.827" stop-color="#00fff5"/><stop offset="0.842" stop-color="#00f3ff"/><stop offset="0.915" stop-color="#0080ff"/><stop offset="0.997" stop-color="#0029ff"/><stop offset="0.999" stop-color="#0026ff"/></linearGradient><linearGradient id="f94" x1="0" y1="0" x2="0" y2="1"><stop offset="0.001" stop-color="#ffbf00"/><stop offset="0.050" stop-color="#ffe600"/><stop offset="0.148" stop-color="#fcff00"/><stop offset="0.516" stop-color="#19ff00"/><stop offset="0.557" stop-color="#00ff06"/><stop offset="0.827" stop-color="#00ffed"/><stop offset="0.844" stop-color="#00fcff"/><stop offset="0.934" stop-color="#007bff"/><stop offset="0.999" stop-color="#0033ff"/></linearGradient><linearGradient id="f95" x1="0" y1="0" x2="0" y2="1"><stop offset="0.001" stop-color="#ffbb00"/><stop offset="0.058" stop-color="#ffe700"/><stop offset="0.156" stop-color="#faff00"/><stop offset="0.516" stop-color="#1dff00"/><stop offset="0.557" stop-color="#00ff01"/><stop offset="0.835" stop-color="#00fff0"/><stop offset="0.852" stop-color="#00faff"/><stop offset="0.966" stop-color="#0066ff"/><stop offset="0.999" stop-color="#0041ff"/></linearGradient><linearGradient id="f96" x1="0" y1="0" x2="0" y2="1"><stop offset="0.001" stop-color="#ffb600"/><stop offset="0.058" stop-color="#ffe400"/><stop offset="0.156" stop-color="#fcff00"/><stop offset="0.525" stop-color="#1bff00"/><stop offset="0.565" stop-color="#00ff04"/><stop offset="0.835" stop-color="#00ffe9"/><stop offset="0.860" stop-color="#00f9ff"/><stop offset="0.999" stop-color="#004fff"/></linearGradient><linearGradient id="f97" x1="0" y1="0" x2="0" y2="1"><stop offset="0.001" stop-color="#ffb300"/><stop offset="0.066" stop-color="#ffe500"/><stop offset="0.165" stop-color="#faff00"/><stop offset="0.533" stop-color="#19ff00"/><stop offset="0.574" stop-color="#00ff06"/><stop offset="0.844" stop-color="#00ffeb"/><stop offset="0.868" stop-color="#00f8ff"/><stop offset="0.999" stop-color="#005eff"/></linearGradient><linearGradient id="f98" x1="0" y1="0" x2="0" y2="1"><stop offset="0.001" stop-color="#ffb000"/><stop offset="0.075" stop-color="#ffe600"/><stop offset="0.165" stop-color="#fcff00"/><stop offset="0.533" stop-color="#1cff00"/><stop offset="0.574" stop-color="#00ff02"/><stop offset="0.852" stop-color="#00ffed"/><stop offset="0.876" stop-color="#00f7ff"/><stop offset="0.999" stop-color="#006eff"/></linearGradient><linearGradient id="f99" x1="0" y1="0" x2="0" y2="1"><stop offset="0.001" stop-color="#ffae00"/><stop offset="0.083" stop-color="#ffe700"/><stop offset="0.173" stop-color="#faff00"/><stop offset="0.541" stop-color="#1aff00"/><stop offset="0.582" stop-color="#00ff04"/><stop offset="0.852" stop-color="#00ffe7"/><stop offset="0.876" stop-color="#00fefe"/><stop offset="0.999" stop-color="#007fff"/></linearGradient><linearGradient id="f100" x1="0" y1="0" x2="0" y2="1"><stop offset="0.001" stop-color="#ffac00"/><stop offset="0.050" stop-color="#ffcd00"/><stop offset="0.099" stop-color="#ffea00"/><stop offset="0.173" stop-color="#fcff00"/><stop offset="0.549" stop-color="#18ff00"/><stop offset="0.590" stop-color="#00ff06"/><stop offset="0.860" stop-color="#00ffe8"/><stop offset="0.884" stop-color="#00feff"/><stop offset="0.999" stop-color="#008cff"/></linearGradient><linearGradient id="f101" x1="0" y1="0" x2="0" y2="1"><stop offset="0.001" stop-color="#ffab00"/><stop offset="0.050" stop-color="#ffc800"/><stop offset="0.099" stop-color="#ffe800"/><stop offset="0.181" stop-color="#faff00"/><stop offset="0.549" stop-color="#1cff00"/><stop offset="0.590" stop-color="#00ff02"/><stop offset="0.860" stop-color="#00ffe2"/><stop offset="0.893" stop-color="#00fdff"/><stop offset="0.999" stop-color="#0094ff"/></linearGradient><linearGradient id="f102" x1="0" y1="0" x2="0" y2="1"><stop offset="0.001" stop-color="#ffa900"/><stop offset="0.050" stop-color="#ffc300"/><stop offset="0.099" stop-color="#ffe700"/><stop offset="0.181" stop-color="#fcff00"/><stop offset="0.557" stop-color="#1aff00"/><stop offset="0.598" stop-color="#00ff04"/><stop offset="0.868" stop-color="#00ffe4"/><stop offset="0.901" stop-color="#00fbff"/><stop offset="0.999" stop-color="#009bff"/></linearGradient><linearGradient id="f103" x1="0" y1="0" x2="0" y2="1"><stop offset="0.001" stop-color="#ffa800"/><stop offset="0.050" stop-color="#ffbf00"/><stop offset="0.107" stop-color="#ffe800"/><stop offset="0.189" stop-color="#faff00"/><stop offset="0.549" stop-color="#23ff00"/><stop offset="0.598" stop-color="#01ff00"/><stop offset="0.868" stop-color="#00ffde"/><stop offset="0.909" stop-color="#00faff"/><stop offset="0.999" stop-color="#00a2ff"/></linearGradient><linearGradient id="f104" x1="0" y1="0" x2="0" y2="1"><stop offset="0.001" stop-color="#ffa600"/><stop offset="0.050" stop-color="#ffbb00"/><stop offset="0.116" stop-color="#ffe800"/><stop offset="0.189" stop-color="#fcff00"/><stop offset="0.541" stop-color="#2dff00"/><stop offset="0.606" stop-color="#00ff02"/><stop offset="0.876" stop-color="#00ffe0"/><stop offset="0.909" stop-color="#00fffe"/><stop offset="0.999" stop-color="#00a9ff"/></linearGradient><linearGradient id="f105" x1="0" y1="0" x2="0" y2="1"><stop offset="0.001" stop-color="#ffa500"/><stop offset="0.058" stop-color="#ffbe00"/><stop offset="0.116" stop-color="#ffe700"/><stop offset="0.197" stop-color="#faff00"/><stop offset="0.541" stop-color="#30ff00"/><stop offset="0.615" stop-color="#00ff04"/><stop offset="0.876" stop-color="#00ffda"/><stop offset="0.917" stop-color="#00feff"/><stop offset="0.999" stop-color="#00afff"/></linearGradient><linearGradient id="f106" x1="0" y1="0" x2="0" y2="1"><stop offset="0.001" stop-color="#ffa400"/><stop offset="0.058" stop-color="#ffba00"/><stop offset="0.124" stop-color="#ffe800"/><stop offset="0.197" stop-color="#fcff00"/><stop offset="0.541" stop-color="#34ff00"/><stop offset="0.615" stop-color="#01ff00"/><stop offset="0.884" stop-color="#00ffdb"/><stop offset="0.925" stop-color="#00fdff"/><stop offset="0.999" stop-color="#00b6ff"/></linearGradient><linearGradient id="f107" x1="0" y1="0" x2="0" y2="1"><stop offset="0.001" stop-color="#ffa300"/><stop offset="0.066" stop-color="#ffbd00"/><stop offset="0.124" stop-color="#ffe600"/><stop offset="0.206" stop-color="#faff00"/><stop offset="0.541" stop-color="#37ff00"/><stop offset="0.623" stop-color="#00ff02"/><stop offset="0.893" stop-color="#00ffdd"/><stop offset="0.934" stop-color="#00fbff"/><stop offset="0.999" stop-color="#00bcff"/></linearGradient><linearGradient id="f108" x1="0" y1="0" x2="0" y2="1"><stop offset="0.001" stop-color="#ffa100"/><stop offset="0.066" stop-color="#ffb900"/><stop offset="0.132" stop-color="#ffe800"/><stop offset="0.206" stop-color="#fcff00"/><stop offset="0.541" stop-color="#3aff00"/><stop offset="0.631" stop-color="#00ff04"/><stop offset="0.893" stop-color="#00ffd7"/><stop offset="0.942" stop-color="#00faff"/><stop offset="0.999" stop-color="#00c3ff"/></linearGradient><linearGradient id="f109" x1="0" y1="0" x2="0" y2="1"><stop offset="0.001" stop-color="#ffa000"/><stop offset="0.075" stop-color="#ffbc00"/><stop offset="0.140" stop-color="#ffe900"/><stop offset="0.214" stop-color="#faff00"/><stop offset="0.549" stop-color="#38ff00"/><stop offset="0.631" stop-color="#01ff01"/><stop offset="0.901" stop-color="#00ffd8"/><stop offset="0.942" stop-color="#00fffe"/><stop offset="0.999" stop-color="#00c9ff"/></linearGradient><linearGradient id="f110" x1="0" y1="0" x2="0" y2="1"><stop offset="0.001" stop-color="#ff9f00"/><stop offset="0.075" stop-color="#ffb900"/><stop offset="0.140" stop-color="#ffe700"/><stop offset="0.214" stop-color="#fcff00"/><stop offset="0.541" stop-color="#40ff00"/><stop offset="0.639" stop-color="#00ff02"/><stop offset="0.909" stop-color="#00ffda"/><stop offset="0.950" stop-color="#00feff"/><stop offset="0.999" stop-color="#00cfff"/></linearGradient><linearGradient id="f111" x1="0" y1="0" x2="0" y2="1"><stop offset="0.001" stop-color="#ff9e00"/><stop offset="0.083" stop-color="#ffbb00"/><stop offset="0.148" stop-color="#ffe800"/><stop offset="0.222" stop-color="#faff00"/><stop offset="0.549" stop-color="#3eff00"/><stop offset="0.647" stop-color="#00ff04"/><stop offset="0.917" stop-color="#00ffdb"/><stop offset="0.958" stop-color="#00fdff"/><stop offset="0.999" stop-color="#00d6ff"/></linearGradient><linearGradient id="f112" x1="0" y1="0" x2="0" y2="1"><stop offset="0.001" stop-color="#ff9d00"/><stop offset="0.083" stop-color="#ffb800"/><stop offset="0.156" stop-color="#ffea00"/><stop offset="0.222" stop-color="#fcff00"/><stop offset="0.541" stop-color="#46ff00"/><stop offset="0.647" stop-color="#00ff01"/><stop offset="0.925" stop-color="#00ffdd"/><stop offset="0.966" stop-color="#00fcff"/><stop offset="0.999" stop-color="#00ddff"/></linearGradient><linearGradient id="f113" x1="0" y1="0" x2="0" y2="1"><stop offset="0.001" stop-color="#ff9b00"/><stop offset="0.091" stop-color="#ffba00"/><stop offset="0.156" stop-color="#ffe800"/><stop offset="0.230" stop-color="#faff00"/><stop offset="0.557" stop-color="#40ff00"/><stop offset="0.655" stop-color="#00ff02"/><stop offset="0.942" stop-color="#00ffe5"/><stop offset="0.974" stop-color="#00fbff"/><stop offset="0.999" stop-color="#00e4ff"/></linearGradient><linearGradient id="f114" x1="0" y1="0" x2="0" y2="1"><stop offset="0.001" stop-color="#ff9a00"/><stop offset="0.091" stop-color="#ffb700"/><stop offset="0.165" stop-color="#ffe900"/><stop offset="0.230" stop-color="#fcff00"/><stop offset="0.549" stop-color="#48ff00"/><stop offset="0.664" stop-color="#00ff04"/><stop offset="0.950" stop-color="#00ffe6"/><stop offset="0.983" stop-color="#00faff"/><stop offset="0.999" stop-color="#00eaff"/></linearGradient><linearGradient id="f115" x1="0" y1="0" x2="0" y2="1"><stop offset="0.001" stop-color="#ff9900"/><stop offset="0.099" stop-color="#ffb900"/><stop offset="0.173" stop-color="#ffea00"/><stop offset="0.238" stop-color="#faff00"/><stop offset="0.574" stop-color="#3cff00"/><stop offset="0.664" stop-color="#01ff01"/><stop offset="0.966" stop-color="#00ffee"/><stop offset="0.991" stop-color="#00f9ff"/><stop offset="0.999" stop-color="#00f1ff"/></linearGradient><linearGradient id="f116" x1="0" y1="0" x2="0" y2="1"><stop offset="0.001" stop-color="#ff9800"/><stop offset="0.107" stop-color="#ffbb00"/><stop offset="0.181" stop-color="#ffeb00"/><stop offset="0.238" stop-color="#fcff00"/><stop offset="0.574" stop-color="#40ff00"/><stop offset="0.672" stop-color="#00ff02"/><stop offset="0.983" stop-color="#00fff7"/><stop offset="0.999" stop-color="#00f8ff"/></linearGradient><linearGradient id="f117" x1="0" y1="0" x2="0" y2="1"><stop offset="0.001" stop-color="#ff9700"/><stop offset="0.107" stop-color="#ffb800"/><stop offset="0.181" stop-color="#ffea00"/><stop offset="0.246" stop-color="#faff00"/><stop offset="0.590" stop-color="#39ff00"/><stop offset="0.680" stop-color="#00ff04"/><stop offset="0.999" stop-color="#00fffd"/></linearGradient><linearGradient id="f118" x1="0" y1="0" x2="0" y2="1"><stop offset="0.001" stop-color="#ff9600"/><stop offset="0.116" stop-color="#ffbb00"/><stop offset="0.189" stop-color="#ffeb00"/><stop offset="0.246" stop-color="#fcff00"/><stop offset="0.582" stop-color="#41ff00"/><stop offset="0.680" stop-color="#01ff00"/><stop offset="0.999" stop-color="#00fff5"/></linearGradient><linearGradient id="f119" x1="0" y1="0" x2="0" y2="1"><stop offset="0.001" stop-color="#ff9500"/><stop offset="0.116" stop-color="#ffb800"/><stop offset="0.189" stop-color="#ffe900"/><stop offset="0.255" stop-color="#faff00"/><stop offset="0.565" stop-color="#4eff00"/><stop offset="0.688" stop-color="#00ff02"/><stop offset="0.999" stop-color="#00ffed"/></linearGradient><linearGradient id="f120" x1="0" y1="0" x2="0" y2="1"><stop offset="0.001" stop-color="#ff9400"/><stop offset="0.124" stop-color="#ffba00"/><stop offset="0.197" stop-color="#ffeb00"/><stop offset="0.255" stop-color="#fcff00"/><stop offset="0.541" stop-color="#5fff00"/><stop offset="0.696" stop-color="#00ff04"/><stop offset="0.999" stop-color="#00ffe7"/></linearGradient><linearGradient id="f121" x1="0" y1="0" x2="0" y2="1"><stop offset="0.001" stop-color="#ff9300"/><stop offset="0.124" stop-color="#ffb700"/><stop offset="0.206" stop-color="#ffec00"/><stop offset="0.263" stop-color="#faff00"/><stop offset="0.549" stop-color="#5dff00"/><stop offset="0.696" stop-color="#00ff01"/><stop offset="0.999" stop-color="#00ffe2"/></linearGradient><linearGradient id="f122" x1="0" y1="0" x2="0" y2="1"><stop offset="0.001" stop-color="#ff9200"/><stop offset="0.132" stop-color="#ffba00"/><stop offset="0.206" stop-color="#ffea00"/><stop offset="0.263" stop-color="#fcff00"/><stop offset="0.549" stop-color="#60ff00"/><stop offset="0.704" stop-color="#00ff03"/><stop offset="0.999" stop-color="#00ffdc"/></linearGradient><linearGradient id="f123" x1="0" y1="0" x2="0" y2="1"><stop offset="0.001" stop-color="#ff9100"/><stop offset="0.132" stop-color="#ffb700"/><stop offset="0.214" stop-color="#ffec00"/><stop offset="0.271" stop-color="#fbff00"/><stop offset="0.557" stop-color="#5eff00"/><stop offset="0.713" stop-color="#00ff05"/><stop offset="0.999" stop-color="#00ffd8"/></linearGradient><linearGradient id="f124" x1="0" y1="0" x2="0" y2="1"><stop offset="0.001" stop-color="#ff9000"/><stop offset="0.140" stop-color="#ffba00"/><stop offset="0.214" stop-color="#ffea00"/><stop offset="0.279" stop-color="#f9ff00"/><stop offset="0.574" stop-color="#57ff00"/><stop offset="0.713" stop-color="#00ff01"/><stop offset="0.999" stop-color="#00ffd3"/></linearGradient><linearGradient id="f125" x1="0" y1="0" x2="0" y2="1"><stop offset="0.001" stop-color="#ff8f00"/><stop offset="0.140" stop-color="#ffb800"/><stop offset="0.214" stop-color="#ffe900"/><stop offset="0.279" stop-color="#fbff00"/><stop offset="0.565" stop-color="#5eff00"/><stop offset="0.721" stop-color="#00ff04"/><stop offset="0.999" stop-color="#00ffce"/></linearGradient><linearGradient id="f126" x1="0" y1="0" x2="0" y2="1"><stop offset="0.001" stop-color="#ff8e00"/><stop offset="0.140" stop-color="#ffb500"/><stop offset="0.222" stop-color="#ffea00"/><stop offset="0.287" stop-color="#faff00"/><stop offset="0.590" stop-color="#53ff00"/><stop offset="0.721" stop-color="#01ff00"/><stop offset="0.999" stop-color="#00ffc9"/></linearGradient><linearGradient id="f127" x1="0" y1="0" x2="0" y2="1"><stop offset="0.001" stop-color="#ff8d00"/><stop offset="0.148" stop-color="#ffb800"/><stop offset="0.222" stop-color="#ffe900"/><stop offset="0.287" stop-color="#fcff00"/><stop offset="0.606" stop-color="#4cff00"/><stop offset="0.729" stop-color="#00ff01"/><stop offset="0.999" stop-color="#00ffc4"/></linearGradient><linearGradient id="f128" x1="0" y1="0" x2="0" y2="1"><stop offset="0.001" stop-color="#ff8c00"/><stop offset="0.156" stop-color="#ffbb00"/><stop offset="0.230" stop-color="#ffea00"/><stop offset="0.296" stop-color="#faff00"/><stop offset="0.647" stop-color="#38ff00"/><stop offset="0.737" stop-color="#00ff02"/><stop offset="0.999" stop-color="#00ffc0"/></linearGradient><linearGradient id="f129" x1="0" y1="0" x2="0" y2="1"><stop offset="0.001" stop-color="#ff8b00"/><stop offset="0.156" stop-color="#ffb800"/><stop offset="0.238" stop-color="#ffeb00"/><stop offset="0.296" stop-color="#fcff00"/><stop offset="0.664" stop-color="#31ff00"/><stop offset="0.745" stop-color="#00ff04"/><stop offset="0.999" stop-color="#00ffbb"/></linearGradient><linearGradient id="f130" x1="0" y1="0" x2="0" y2="1"><stop offset="0.001" stop-color="#ff8a00"/><stop offset="0.165" stop-color="#ffba00"/><stop offset="0.238" stop-color="#ffea00"/><stop offset="0.304" stop-color="#fbff00"/><stop offset="0.680" stop-color="#2bff00"/><stop offset="0.754" stop-color="#00ff05"/><stop offset="0.999" stop-color="#00ffb6"/></linearGradient><linearGradient id="f131" x1="0" y1="0" x2="0" y2="1"><stop offset="0.001" stop-color="#ff8900"/><stop offset="0.165" stop-color="#ffb700"/><stop offset="0.246" stop-color="#ffeb00"/><stop offset="0.312" stop-color="#f9ff00"/><stop offset="0.696" stop-color="#24ff00"/><stop offset="0.754" stop-color="#00ff01"/><stop offset="0.999" stop-color="#00ffb1"/></linearGradient><linearGradient id="f132" x1="0" y1="0" x2="0" y2="1"><stop offset="0.001" stop-color="#ff8900"/><stop offset="0.173" stop-color="#ffba00"/><stop offset="0.255" stop-color="#ffec00"/><stop offset="0.312" stop-color="#fbff00"/><stop offset="0.688" stop-color="#2dff00"/><stop offset="0.762" stop-color="#00ff02"/><stop offset="0.999" stop-color="#00ffab"/></linearGradient><linearGradient id="f133" x1="0" y1="0" x2="0" y2="1"><stop offset="0.001" stop-color="#ff8800"/><stop offset="0.173" stop-color="#ffb600"/><stop offset="0.255" stop-color="#ffea00"/><stop offset="0.320" stop-color="#f9ff00"/><stop offset="0.696" stop-color="#2bff00"/><stop offset="0.770" stop-color="#00ff03"/><stop offset="0.999" stop-color="#00ffa6"/></linearGradient><linearGradient id="f134" x1="0" y1="0" x2="0" y2="1"><stop offset="0.001" stop-color="#ff8700"/><stop offset="0.181" stop-color="#ffb800"/><stop offset="0.263" stop-color="#ffeb00"/><stop offset="0.320" stop-color="#fcff00"/><stop offset="0.696" stop-color="#2fff00"/><stop offset="0.778" stop-color="#00ff05"/><stop offset="0.999" stop-color="#00ffa1"/></linearGradient><linearGradient id="f135" x1="0" y1="0" x2="0" y2="1"><stop offset="0.001" stop-color="#ff8600"/><stop offset="0.181" stop-color="#ffb500"/><stop offset="0.271" stop-color="#ffed00"/><stop offset="0.328" stop-color="#faff00"/><stop offset="0.713" stop-color="#28ff00"/><stop offset="0.778" stop-color="#00ff01"/><stop offset="0.999" stop-color="#00ff9c"/></linearGradient><linearGradient id="f136" x1="0" y1="0" x2="0" y2="1"><stop offset="0.001" stop-color="#ff8500"/><stop offset="0.189" stop-color="#ffb800"/><stop offset="0.271" stop-color="#ffeb00"/><stop offset="0.328" stop-color="#fcff00"/><stop offset="0.713" stop-color="#2cff00"/><stop offset="0.786" stop-color="#00ff02"/><stop offset="0.999" stop-color="#00ff96"/></linearGradient><linearGradient id="f137" x1="0" y1="0" x2="0" y2="1"><stop offset="0.001" stop-color="#ff8400"/><stop offset="0.189" stop-color="#ffb500"/><stop offset="0.279" stop-color="#ffed00"/><stop offset="0.336" stop-color="#faff00"/><stop offset="0.729" stop-color="#25ff00"/><stop offset="0.794" stop-color="#00ff03"/><stop offset="0.999" stop-color="#00ff91"/></linearGradient><linearGradient id="f138" x1="0" y1="0" x2="0" y2="1"><stop offset="0.001" stop-color="#ff8300"/><stop offset="0.197" stop-color="#ffb800"/><stop offset="0.279" stop-color="#ffeb00"/><stop offset="0.336" stop-color="#fbff00"/><stop offset="0.745" stop-color="#1fff00"/><stop offset="0.803" stop-color="#00ff05"/><stop offset="0.999" stop-color="#00ff8c"/></linearGradient><linearGradient id="f139" x1="0" y1="0" x2="0" y2="1"><stop offset="0.001" stop-color="#ff8200"/><stop offset="0.197" stop-color="#ffb600"/><stop offset="0.287" stop-color="#ffed00"/><stop offset="0.345" stop-color="#f9ff00"/><stop offset="0.762" stop-color="#18ff00"/><stop offset="0.811" stop-color="#00ff06"/><stop offset="0.999" stop-color="#00ff87"/></linearGradient><linearGradient id="f140" x1="0" y1="0" x2="0" y2="1"><stop offset="0.001" stop-color="#ff8000"/><stop offset="0.206" stop-color="#ffb900"/><stop offset="0.287" stop-color="#ffec00"/><stop offset="0.345" stop-color="#fbff00"/><stop offset="0.778" stop-color="#12ff00"/><stop offset="0.811" stop-color="#00ff02"/><stop offset="0.999" stop-color="#00ff82"/></linearGradient><linearGradient id="f141" x1="0" y1="0" x2="0" y2="1"><stop offset="0.001" stop-color="#ff7f00"/><stop offset="0.206" stop-color="#ffb700"/><stop offset="0.287" stop-color="#ffeb00"/><stop offset="0.353" stop-color="#f9ff00"/><stop offset="0.803" stop-color="#07ff00"/><stop offset="0.835" stop-color="#00ff0f"/><stop offset="0.999" stop-color="#00ff7e"/></linearGradient><linearGradient id="f142" x1="0" y1="0" x2="0" y2="1"><stop offset="0.001" stop-color="#ff7e00"/><stop offset="0.206" stop-color="#ffb500"/><stop offset="0.296" stop-color="#ffec00"/><stop offset="0.353" stop-color="#fbff00"/><stop offset="0.803" stop-color="#0aff00"/><stop offset="0.827" stop-color="#00ff05"/><stop offset="0.999" stop-color="#00ff79"/></linearGradient><linearGradient id="f143" x1="0" y1="0" x2="0" y2="1"><stop offset="0.001" stop-color="#ff7d00"/><stop offset="0.214" stop-color="#ffb900"/><stop offset="0.296" stop-color="#ffeb00"/><stop offset="0.361" stop-color="#f8ff00"/><stop offset="0.811" stop-color="#09ff00"/><stop offset="0.844" stop-color="#00ff0c"/><stop offset="0.999" stop-color="#00ff74"/></linearGradient><linearGradient id="f144" x1="0" y1="0" x2="0" y2="1"><stop offset="0.001" stop-color="#ff7c00"/><stop offset="0.214" stop-color="#ffb700"/><stop offset="0.296" stop-color="#ffea00"/><stop offset="0.361" stop-color="#faff00"/><stop offset="0.835" stop-color="#00ff03"/><stop offset="0.999" stop-color="#00ff70"/></linearGradient><linearGradient id="f145" x1="0" y1="0" x2="0" y2="1"><stop offset="0.001" stop-color="#ff7b00"/><stop offset="0.222" stop-color="#ffba00"/><stop offset="0.304" stop-color="#ffec00"/><stop offset="0.361" stop-color="#fcff00"/><stop offset="0.844" stop-color="#00ff05"/><stop offset="0.999" stop-color="#00ff6b"/></linearGradient><linearGradient id="f146" x1="0" y1="0" x2="0" y2="1"><stop offset="0.001" stop-color="#ff7a00"/><stop offset="0.222" stop-color="#ffb800"/><stop offset="0.304" stop-color="#ffeb00"/><stop offset="0.369" stop-color="#faff00"/><stop offset="0.844" stop-color="#00ff01"/><stop offset="0.999" stop-color="#00ff67"/></linearGradient><linearGradient id="f147" x1="0" y1="0" x2="0" y2="1"><stop offset="0.001" stop-color="#ff7900"/><stop offset="0.222" stop-color="#ffb600"/><stop offset="0.304" stop-color="#ffea00"/><stop offset="0.369" stop-color="#fcff00"/><stop offset="0.852" stop-color="#00ff02"/><stop offset="0.999" stop-color="#00ff62"/></linearGradient><linearGradient id="f148" x1="0" y1="0" x2="0" y2="1"><stop offset="0.001" stop-color="#ff7800"/><stop offset="0.230" stop-color="#ffb900"/><stop offset="0.312" stop-color="#ffeb00"/><stop offset="0.377" stop-color="#f9ff00"/><stop offset="0.860" stop-color="#00ff04"/><stop offset="0.999" stop-color="#00ff5e"/></linearGradient><linearGradient id="f149" x1="0" y1="0" x2="0" y2="1"><stop offset="0.001" stop-color="#ff7700"/><stop offset="0.230" stop-color="#ffb600"/><stop offset="0.312" stop-color="#ffea00"/><stop offset="0.377" stop-color="#fbff00"/><stop offset="0.860" stop-color="#00ff01"/><stop offset="0.999" stop-color="#00ff5a"/></linearGradient><linearGradient id="f150" x1="0" y1="0" x2="0" y2="1"><stop offset="0.001" stop-color="#ff7600"/><stop offset="0.238" stop-color="#ffb900"/><stop offset="0.320" stop-color="#ffeb00"/><stop offset="0.385" stop-color="#f9ff00"/><stop offset="0.852" stop-color="#07ff00"/><stop offset="0.884" stop-color="#00ff0d"/><stop offset="0.999" stop-color="#00ff57"/></linearGradient><linearGradient id="f151" x1="0" y1="0" x2="0" y2="1"><stop offset="0.001" stop-color="#ff7400"/><stop offset="0.238" stop-color="#ffb700"/><stop offset="0.320" stop-color="#ffea00"/><stop offset="0.385" stop-color="#fbff00"/><stop offset="0.835" stop-color="#13ff00"/><stop offset="0.876" stop-color="#00ff05"/><stop offset="0.999" stop-color="#00ff53"/></linearGradient><linearGradient id="f152" x1="0" y1="0" x2="0" y2="1"><stop offset="0.001" stop-color="#ff7300"/><stop offset="0.246" stop-color="#ffba00"/><stop offset="0.328" stop-color="#ffeb00"/><stop offset="0.394" stop-color="#f9ff00"/><stop offset="0.844" stop-color="#11ff00"/><stop offset="0.884" stop-color="#00ff07"/><stop offset="0.999" stop-color="#00ff50"/></linearGradient><linearGradient id="f153" x1="0" y1="0" x2="0" y2="1"><stop offset="0.001" stop-color="#ff7200"/><stop offset="0.246" stop-color="#ffb700"/><stop offset="0.328" stop-color="#ffea00"/><stop offset="0.394" stop-color="#fbff00"/><stop offset="0.827" stop-color="#1dff00"/><stop offset="0.884" stop-color="#00ff03"/><stop offset="0.999" stop-color="#00ff4c"/></linearGradient><linearGradient id="f154" x1="0" y1="0" x2="0" y2="1"><stop offset="0.001" stop-color="#ff7100"/><stop offset="0.255" stop-color="#ffba00"/><stop offset="0.336" stop-color="#ffec00"/><stop offset="0.402" stop-color="#f8ff00"/><stop offset="0.827" stop-color="#20ff00"/><stop offset="0.893" stop-color="#00ff05"/><stop offset="0.999" stop-color="#00ff49"/></linearGradient><linearGradient id="f155" x1="0" y1="0" x2="0" y2="1"><stop offset="0.001" stop-color="#ff7000"/><stop offset="0.255" stop-color="#ffb800"/><stop offset="0.336" stop-color="#ffeb00"/><stop offset="0.402" stop-color="#faff00"/><stop offset="0.819" stop-color="#27ff00"/><stop offset="0.893" stop-color="#00ff02"/><stop offset="0.999" stop-color="#00ff45"/></linearGradient><linearGradient id="f156" x1="0" y1="0" x2="0" y2="1"><stop offset="0.001" stop-color="#ff6f00"/><stop offset="0.255" stop-color="#ffb600"/><stop offset="0.336" stop-color="#ffe900"/><stop offset="0.402" stop-color="#fcff00"/><stop offset="0.811" stop-color="#2eff00"/><stop offset="0.901" stop-color="#00ff04"/><stop offset="0.999" stop-color="#00ff42"/></linearGradient><linearGradient id="f157" x1="0" y1="0" x2="0" y2="1"><stop offset="0.001" stop-color="#ff6e00"/><stop offset="0.263" stop-color="#ffb900"/><stop offset="0.345" stop-color="#ffeb00"/><stop offset="0.410" stop-color="#faff00"/><stop offset="0.803" stop-color="#35ff00"/><stop offset="0.901" stop-color="#00ff01"/><stop offset="0.999" stop-color="#00ff3f"/></linearGradient><linearGradient id="f158" x1="0" y1="0" x2="0" y2="1"><stop offset="0.001" stop-color="#ff6d00"/><stop offset="0.263" stop-color="#ffb700"/><stop offset="0.345" stop-color="#ffea00"/><stop offset="0.410" stop-color="#fbff00"/><stop offset="0.803" stop-color="#38ff00"/><stop offset="0.909" stop-color="#00ff03"/><stop offset="0.999" stop-color="#00ff3b"/></linearGradient><linearGradient id="f159" x1="0" y1="0" x2="0" y2="1"><stop offset="0.001" stop-color="#ff6c00"/><stop offset="0.271" stop-color="#ffba00"/><stop offset="0.353" stop-color="#ffec00"/><stop offset="0.418" stop-color="#f9ff00"/><stop offset="0.794" stop-color="#3fff00"/><stop offset="0.917" stop-color="#00ff05"/><stop offset="0.999" stop-color="#00ff38"/></linearGradient><linearGradient id="f160" x1="0" y1="0" x2="0" y2="1"><stop offset="0.001" stop-color="#ff6b00"/><stop offset="0.271" stop-color="#ffb800"/><stop offset="0.353" stop-color="#ffeb00"/><stop offset="0.418" stop-color="#faff00"/><stop offset="0.786" stop-color="#45ff00"/><stop offset="0.917" stop-color="#00ff02"/><stop offset="0.999" stop-color="#00ff35"/></linearGradient><linearGradient id="f161" x1="0" y1="0" x2="0" y2="1"><stop offset="0.001" stop-color="#ff6a00"/><stop offset="0.271" stop-color="#ffb600"/><stop offset="0.361" stop-color="#ffed00"/><stop offset="0.418" stop-color="#fbff00"/><stop offset="0.770" stop-color="#50ff00"/><stop offset="0.925" stop-color="#00ff04"/><stop offset="0.999" stop-color="#00ff31"/></linearGradient><linearGradient id="f162" x1="0" y1="0" x2="0" y2="1"><stop offset="0.001" stop-color="#ff6800"/><stop offset="0.279" stop-color="#ffba00"/><stop offset="0.361" stop-color="#ffec00"/><stop offset="0.426" stop-color="#f8ff00"/><stop offset="0.762" stop-color="#57ff00"/><stop offset="0.925" stop-color="#00ff01"/><stop offset="0.999" stop-color="#00ff2e"/></linearGradient><linearGradient id="f163" x1="0" y1="0" x2="0" y2="1"><stop offset="0.001" stop-color="#ff6700"/><stop offset="0.279" stop-color="#ffb800"/><stop offset="0.361" stop-color="#ffeb00"/><stop offset="0.426" stop-color="#faff00"/><stop offset="0.762" stop-color="#59ff00"/><stop offset="0.934" stop-color="#00ff03"/><stop offset="0.999" stop-color="#00ff2b"/></linearGradient><linearGradient id="f164" x1="0" y1="0" x2="0" y2="1"><stop offset="0.001" stop-color="#ff6600"/><stop offset="0.287" stop-color="#ffbb00"/><stop offset="0.369" stop-color="#ffed00"/><stop offset="0.426" stop-color="#fbff00"/><stop offset="0.754" stop-color="#5fff00"/><stop offset="0.942" stop-color="#00ff05"/><stop offset="0.999" stop-color="#00ff28"/></linearGradient><linearGradient id="f165" x1="0" y1="0" x2="0" y2="1"><stop offset="0.001" stop-color="#ff6400"/><stop offset="0.287" stop-color="#ffb900"/><stop offset="0.369" stop-color="#ffec00"/><stop offset="0.426" stop-color="#fcff00"/><stop offset="0.737" stop-color="#6aff00"/><stop offset="0.942" stop-color="#00ff02"/><stop offset="0.999" stop-color="#00ff25"/></linearGradient><linearGradient id="f166" x1="0" y1="0" x2="0" y2="1"><stop offset="0.001" stop-color="#ff6300"/><stop offset="0.287" stop-color="#ffb700"/><stop offset="0.369" stop-color="#ffea00"/><stop offset="0.435" stop-color="#f9ff00"/><stop offset="0.737" stop-color="#6cff00"/><stop offset="0.950" stop-color="#00ff04"/><stop offset="0.999" stop-color="#00ff22"/></linearGradient><linearGradient id="f167" x1="0" y1="0" x2="0" y2="1"><stop offset="0.001" stop-color="#ff6100"/><stop offset="0.296" stop-color="#ffba00"/><stop offset="0.377" stop-color="#ffec00"/><stop offset="0.435" stop-color="#faff00"/><stop offset="0.737" stop-color="#6fff00"/><stop offset="0.950" stop-color="#00ff01"/><stop offset="0.999" stop-color="#00ff1f"/></linearGradient><linearGradient id="f168" x1="0" y1="0" x2="0" y2="1"><stop offset="0.001" stop-color="#ff6000"/><stop offset="0.255" stop-color="#ffaa00"/><stop offset="0.304" stop-color="#ffbd00"/><stop offset="0.385" stop-color="#ffee00"/><stop offset="0.443" stop-color="#f8ff00"/><stop offset="0.729" stop-color="#75ff00"/><stop offset="0.958" stop-color="#00ff03"/><stop offset="0.999" stop-color="#00ff1c"/></linearGradient><linearGradient id="f169" x1="0" y1="0" x2="0" y2="1"><stop offset="0.001" stop-color="#ff5f00"/><stop offset="0.238" stop-color="#ffa500"/><stop offset="0.304" stop-color="#ffbb00"/><stop offset="0.385" stop-color="#ffed00"/><stop offset="0.443" stop-color="#f9ff00"/><stop offset="0.729" stop-color="#77ff00"/><stop offset="0.958" stop-color="#00ff01"/><stop offset="0.999" stop-color="#00ff19"/></linearGradient><linearGradient id="f170" x1="0" y1="0" x2="0" y2="1"><stop offset="0.001" stop-color="#ff5d00"/><stop offset="0.230" stop-color="#ffa200"/><stop offset="0.304" stop-color="#ffb900"/><stop offset="0.394" stop-color="#ffef00"/><stop offset="0.443" stop-color="#faff00"/><stop offset="0.729" stop-color="#7aff00"/><stop offset="0.966" stop-color="#00ff02"/><stop offset="0.999" stop-color="#00ff16"/></linearGradient><linearGradient id="f171" x1="0" y1="0" x2="0" y2="1"><stop offset="0.001" stop-color="#ff5c00"/><stop offset="0.214" stop-color="#ff9d00"/><stop offset="0.312" stop-color="#ffbc00"/><stop offset="0.394" stop-color="#ffee00"/><stop offset="0.451" stop-color="#f8ff00"/><stop offset="0.729" stop-color="#7cff00"/><stop offset="0.974" stop-color="#00ff04"/><stop offset="0.999" stop-color="#00ff13"/></linearGradient><linearGradient id="f172" x1="0" y1="0" x2="0" y2="1"><stop offset="0.001" stop-color="#ff5a00"/><stop offset="0.214" stop-color="#ff9c00"/><stop offset="0.312" stop-color="#ffba00"/><stop offset="0.402" stop-color="#fff000"/><stop offset="0.451" stop-color="#f9ff00"/><stop offset="0.729" stop-color="#7fff00"/><stop offset="0.974" stop-color="#00ff01"/><stop offset="0.999" stop-color="#00ff10"/></linearGradient><linearGradient id="f173" x1="0" y1="0" x2="0" y2="1"><stop offset="0.001" stop-color="#ff5900"/><stop offset="0.214" stop-color="#ff9c00"/><stop offset="0.312" stop-color="#ffb800"/><stop offset="0.410" stop-color="#fff200"/><stop offset="0.451" stop-color="#faff00"/><stop offset="0.729" stop-color="#81ff00"/><stop offset="0.983" stop-color="#00ff03"/><stop offset="0.999" stop-color="#00ff0d"/></linearGradient><linearGradient id="f174" x1="0" y1="0" x2="0" y2="1"><stop offset="0.001" stop-color="#ff5700"/><stop offset="0.214" stop-color="#ff9b00"/><stop offset="0.320" stop-color="#ffbb00"/><stop offset="0.410" stop-color="#fff100"/><stop offset="0.459" stop-color="#f8ff00"/><stop offset="0.729" stop-color="#84ff00"/><stop offset="0.991" stop-color="#00ff05"/><stop offset="0.999" stop-color="#00ff09"/></linearGradient><linearGradient id="f175" x1="0" y1="0" x2="0" y2="1"><stop offset="0.001" stop-color="#ff5600"/><stop offset="0.214" stop-color="#ff9a00"/><stop offset="0.320" stop-color="#ffb800"/><stop offset="0.418" stop-color="#fff300"/><stop offset="0.459" stop-color="#f9ff00"/><stop offset="0.737" stop-color="#82ff00"/><stop offset="0.991" stop-color="#00ff01"/><stop offset="0.999" stop-color="#00ff06"/></linearGradient><linearGradient id="f176" x1="0" y1="0" x2="0" y2="1"><stop offset="0.001" stop-color="#ff5400"/><stop offset="0.214" stop-color="#ff9900"/><stop offset="0.328" stop-color="#ffbb00"/><stop offset="0.426" stop-color="#fff600"/><stop offset="0.467" stop-color="#f7ff00"/><stop offset="0.745" stop-color="#80ff00"/><stop offset="0.999" stop-color="#00ff03"/></linearGradient><linearGradient id="f177" x1="0" y1="0" x2="0" y2="1"><stop offset="0.001" stop-color="#ff5300"/><stop offset="0.214" stop-color="#ff9800"/><stop offset="0.328" stop-color="#ffb800"/><stop offset="0.435" stop-color="#fff800"/><stop offset="0.492" stop-color="#eeff00"/><stop offset="0.745" stop-color="#82ff00"/><stop offset="0.999" stop-color="#00ff00"/></linearGradient><linearGradient id="f178" x1="0" y1="0" x2="0" y2="1"><stop offset="0.001" stop-color="#ff5100"/><stop offset="0.214" stop-color="#ff9700"/><stop offset="0.336" stop-color="#ffbb00"/><stop offset="0.443" stop-color="#fffb00"/><stop offset="0.737" stop-color="#88ff00"/><stop offset="0.999" stop-color="#02ff00"/></linearGradient><linearGradient id="f179" x1="0" y1="0" x2="0" y2="1"><stop offset="0.001" stop-color="#ff5000"/><stop offset="0.214" stop-color="#ff9600"/><stop offset="0.336" stop-color="#ffb900"/><stop offset="0.451" stop-color="#fffe00"/><stop offset="0.745" stop-color="#86ff00"/><stop offset="0.999" stop-color="#04ff00"/></linearGradient><linearGradient id="f180" x1="0" y1="0" x2="0" y2="1"><stop offset="0.001" stop-color="#ff4f00"/><stop offset="0.214" stop-color="#ff9500"/><stop offset="0.336" stop-color="#ffb700"/><stop offset="0.451" stop-color="#fffc00"/><stop offset="0.745" stop-color="#88ff00"/><stop offset="0.999" stop-color="#07ff00"/></linearGradient><linearGradient id="f181" x1="0" y1="0" x2="0" y2="1"><stop offset="0.001" stop-color="#ff4e00"/><stop offset="0.214" stop-color="#ff9500"/><stop offset="0.345" stop-color="#ffba00"/><stop offset="0.459" stop-color="#ffff00"/><stop offset="0.754" stop-color="#85ff00"/><stop offset="0.999" stop-color="#08ff00"/></linearGradient></defs><rect x="116" y="38" width="8.6" height="489" fill="url(#f0)"/><rect x="124" y="38" width="7.6" height="489" fill="url(#f1)"/><rect x="131" y="38" width="7.6" height="489" fill="url(#f2)"/><rect x="138" y="38" width="7.6" height="489" fill="url(#f3)"/><rect x="145" y="38" width="7.6" height="489" fill="url(#f4)"/><rect x="152" y="38" width="7.6" height="489" fill="url(#f5)"/><rect x="159" y="38" width="7.6" height="489" fill="url(#f6)"/><rect x="166" y="38" width="7.6" height="489" fill="url(#f7)"/><rect x="173" y="38" width="7.6" height="489" fill="url(#f8)"/><rect x="180" y="38" width="7.6" height="489" fill="url(#f9)"/><rect x="187" y="38" width="7.6" height="489" fill="url(#f10)"/><rect x="194" y="38" width="7.6" height="489" fill="url(#f11)"/><rect x="201" y="38" width="7.6" height="489" fill="url(#f12)"/><rect x="208" y="38" width="7.6" height="489" fill="url(#f13)"/><rect x="215" y="38" width="7.6" height="489" fill="url(#f14)"/><rect x="222" y="38" width="7.6" height="489" fill="url(#f15)"/><rect x="229" y="38" width="7.6" height="489" fill="url(#f16)"/><rect x="236" y="38" width="7.6" height="489" fill="url(#f17)"/><rect x="243" y="38" width="7.6" height="489" fill="url(#f18)"/><rect x="250" y="38" width="7.6" height="489" fill="url(#f19)"/><rect x="257" y="38" width="7.6" height="489" fill="url(#f20)"/><rect x="264" y="38" width="7.6" height="489" fill="url(#f21)"/><rect x="271" y="38" width="7.6" height="489" fill="url(#f22)"/><rect x="278" y="38" width="7.6" height="489" fill="url(#f23)"/><rect x="285" y="38" width="7.6" height="489" fill="url(#f24)"/><rect x="292" y="38" width="7.6" height="489" fill="url(#f25)"/><rect x="299" y="38" width="7.6" height="489" fill="url(#f26)"/><rect x="306" y="38" width="7.6" height="489" fill="url(#f27)"/><rect x="313" y="38" width="7.6" height="489" fill="url(#f28)"/><rect x="320" y="38" width="7.6" height="489" fill="url(#f29)"/><rect x="327" y="38" width="7.6" height="489" fill="url(#f30)"/><rect x="334" y="38" width="7.6" height="489" fill="url(#f31)"/><rect x="341" y="38" width="7.6" height="489" fill="url(#f32)"/><rect x="348" y="38" width="7.6" height="489" fill="url(#f33)"/><rect x="355" y="38" width="7.6" height="489" fill="url(#f34)"/><rect x="362" y="38" width="7.6" height="489" fill="url(#f35)"/><rect x="369" y="38" width="7.6" height="489" fill="url(#f36)"/><rect x="376" y="38" width="7.6" height="489" fill="url(#f37)"/><rect x="383" y="38" width="7.6" height="489" fill="url(#f38)"/><rect x="390" y="38" width="7.6" height="489" fill="url(#f39)"/><rect x="397" y="38" width="7.6" height="489" fill="url(#f40)"/><rect x="404" y="38" width="7.6" height="489" fill="url(#f41)"/><rect x="411" y="38" width="7.6" height="489" fill="url(#f42)"/><rect x="418" y="38" width="7.6" height="489" fill="url(#f43)"/><rect x="425" y="38" width="7.6" height="489" fill="url(#f44)"/><rect x="432" y="38" width="7.6" height="489" fill="url(#f45)"/><rect x="439" y="38" width="7.6" height="489" fill="url(#f46)"/><rect x="446" y="38" width="7.6" height="489" fill="url(#f47)"/><rect x="453" y="38" width="7.6" height="489" fill="url(#f48)"/><rect x="460" y="38" width="7.6" height="489" fill="url(#f49)"/><rect x="467" y="38" width="7.6" height="489" fill="url(#f50)"/><rect x="474" y="38" width="7.6" height="489" fill="url(#f51)"/><rect x="481" y="38" width="7.6" height="489" fill="url(#f52)"/><rect x="488" y="38" width="7.6" height="489" fill="url(#f53)"/><rect x="495" y="38" width="7.6" height="489" fill="url(#f54)"/><rect x="502" y="38" width="7.6" height="489" fill="url(#f55)"/><rect x="509" y="38" width="7.6" height="489" fill="url(#f56)"/><rect x="516" y="38" width="7.6" height="489" fill="url(#f57)"/><rect x="523" y="38" width="7.6" height="489" fill="url(#f58)"/><rect x="530" y="38" width="7.6" height="489" fill="url(#f59)"/><rect x="537" y="38" width="7.6" height="489" fill="url(#f60)"/><rect x="544" y="38" width="7.6" height="489" fill="url(#f61)"/><rect x="551" y="38" width="7.6" height="489" fill="url(#f62)"/><rect x="558" y="38" width="7.6" height="489" fill="url(#f63)"/><rect x="565" y="38" width="7.6" height="489" fill="url(#f64)"/><rect x="572" y="38" width="7.6" height="489" fill="url(#f65)"/><rect x="579" y="38" width="7.6" height="489" fill="url(#f66)"/><rect x="586" y="38" width="7.6" height="489" fill="url(#f67)"/><rect x="593" y="38" width="7.6" height="489" fill="url(#f68)"/><rect x="600" y="38" width="7.6" height="489" fill="url(#f69)"/><rect x="607" y="38" width="7.6" height="489" fill="url(#f70)"/><rect x="614" y="38" width="7.6" height="489" fill="url(#f71)"/><rect x="621" y="38" width="7.6" height="489" fill="url(#f72)"/><rect x="628" y="38" width="7.6" height="489" fill="url(#f73)"/><rect x="635" y="38" width="7.6" height="489" fill="url(#f74)"/><rect x="642" y="38" width="7.6" height="489" fill="url(#f75)"/><rect x="649" y="38" width="7.6" height="489" fill="url(#f76)"/><rect x="656" y="38" width="7.6" height="489" fill="url(#f77)"/><rect x="663" y="38" width="7.6" height="489" fill="url(#f78)"/><rect x="670" y="38" width="7.6" height="489" fill="url(#f79)"/><rect x="677" y="38" width="7.6" height="489" fill="url(#f80)"/><rect x="684" y="38" width="7.6" height="489" fill="url(#f81)"/><rect x="691" y="38" width="7.6" height="489" fill="url(#f82)"/><rect x="698" y="38" width="7.6" height="489" fill="url(#f83)"/><rect x="705" y="38" width="7.6" height="489" fill="url(#f84)"/><rect x="712" y="38" width="7.6" height="489" fill="url(#f85)"/><rect x="719" y="38" width="7.6" height="489" fill="url(#f86)"/><rect x="726" y="38" width="7.6" height="489" fill="url(#f87)"/><rect x="733" y="38" width="7.6" height="489" fill="url(#f88)"/><rect x="740" y="38" width="7.6" height="489" fill="url(#f89)"/><rect x="747" y="38" width="3.6" height="489" fill="url(#f90)"/><rect x="895" y="44" width="8.6" height="489" fill="url(#f91)"/><rect x="903" y="44" width="7.6" height="489" fill="url(#f92)"/><rect x="910" y="44" width="7.6" height="489" fill="url(#f93)"/><rect x="917" y="44" width="7.6" height="489" fill="url(#f94)"/><rect x="924" y="44" width="7.6" height="489" fill="url(#f95)"/><rect x="931" y="44" width="7.6" height="489" fill="url(#f96)"/><rect x="938" y="44" width="7.6" height="489" fill="url(#f97)"/><rect x="945" y="44" width="7.6" height="489" fill="url(#f98)"/><rect x="952" y="44" width="7.6" height="489" fill="url(#f99)"/><rect x="959" y="44" width="7.6" height="489" fill="url(#f100)"/><rect x="966" y="44" width="7.6" height="489" fill="url(#f101)"/><rect x="973" y="44" width="7.6" height="489" fill="url(#f102)"/><rect x="980" y="44" width="7.6" height="489" fill="url(#f103)"/><rect x="987" y="44" width="7.6" height="489" fill="url(#f104)"/><rect x="994" y="44" width="7.6" height="489" fill="url(#f105)"/><rect x="1001" y="44" width="7.6" height="489" fill="url(#f106)"/><rect x="1008" y="44" width="7.6" height="489" fill="url(#f107)"/><rect x="1015" y="44" width="7.6" height="489" fill="url(#f108)"/><rect x="1022" y="44" width="7.6" height="489" fill="url(#f109)"/><rect x="1029" y="44" width="7.6" height="489" fill="url(#f110)"/><rect x="1036" y="44" width="7.6" height="489" fill="url(#f111)"/><rect x="1043" y="44" width="7.6" height="489" fill="url(#f112)"/><rect x="1050" y="44" width="7.6" height="489" fill="url(#f113)"/><rect x="1057" y="44" width="7.6" height="489" fill="url(#f114)"/><rect x="1064" y="44" width="7.6" height="489" fill="url(#f115)"/><rect x="1071" y="44" width="7.6" height="489" fill="url(#f116)"/><rect x="1078" y="44" width="7.6" height="489" fill="url(#f117)"/><rect x="1085" y="44" width="7.6" height="489" fill="url(#f118)"/><rect x="1092" y="44" width="7.6" height="489" fill="url(#f119)"/><rect x="1099" y="44" width="7.6" height="489" fill="url(#f120)"/><rect x="1106" y="44" width="7.6" height="489" fill="url(#f121)"/><rect x="1113" y="44" width="7.6" height="489" fill="url(#f122)"/><rect x="1120" y="44" width="7.6" height="489" fill="url(#f123)"/><rect x="1127" y="44" width="7.6" height="489" fill="url(#f124)"/><rect x="1134" y="44" width="7.6" height="489" fill="url(#f125)"/><rect x="1141" y="44" width="7.6" height="489" fill="url(#f126)"/><rect x="1148" y="44" width="7.6" height="489" fill="url(#f127)"/><rect x="1155" y="44" width="7.6" height="489" fill="url(#f128)"/><rect x="1162" y="44" width="7.6" height="489" fill="url(#f129)"/><rect x="1169" y="44" width="7.6" height="489" fill="url(#f130)"/><rect x="1176" y="44" width="7.6" height="489" fill="url(#f131)"/><rect x="1183" y="44" width="7.6" height="489" fill="url(#f132)"/><rect x="1190" y="44" width="7.6" height="489" fill="url(#f133)"/><rect x="1197" y="44" width="7.6" height="489" fill="url(#f134)"/><rect x="1204" y="44" width="7.6" height="489" fill="url(#f135)"/><rect x="1211" y="44" width="7.6" height="489" fill="url(#f136)"/><rect x="1218" y="44" width="7.6" height="489" fill="url(#f137)"/><rect x="1225" y="44" width="7.6" height="489" fill="url(#f138)"/><rect x="1232" y="44" width="7.6" height="489" fill="url(#f139)"/><rect x="1239" y="44" width="7.6" height="489" fill="url(#f140)"/><rect x="1246" y="44" width="7.6" height="489" fill="url(#f141)"/><rect x="1253" y="44" width="7.6" height="489" fill="url(#f142)"/><rect x="1260" y="44" width="7.6" height="489" fill="url(#f143)"/><rect x="1267" y="44" width="7.6" height="489" fill="url(#f144)"/><rect x="1274" y="44" width="7.6" height="489" fill="url(#f145)"/><rect x="1281" y="44" width="7.6" height="489" fill="url(#f146)"/><rect x="1288" y="44" width="7.6" height="489" fill="url(#f147)"/><rect x="1295" y="44" width="7.6" height="489" fill="url(#f148)"/><rect x="1302" y="44" width="7.6" height="489" fill="url(#f149)"/><rect x="1309" y="44" width="7.6" height="489" fill="url(#f150)"/><rect x="1316" y="44" width="7.6" height="489" fill="url(#f151)"/><rect x="1323" y="44" width="7.6" height="489" fill="url(#f152)"/><rect x="1330" y="44" width="7.6" height="489" fill="url(#f153)"/><rect x="1337" y="44" width="7.6" height="489" fill="url(#f154)"/><rect x="1344" y="44" width="7.6" height="489" fill="url(#f155)"/><rect x="1351" y="44" width="7.6" height="489" fill="url(#f156)"/><rect x="1358" y="44" width="7.6" height="489" fill="url(#f157)"/><rect x="1365" y="44" width="7.6" height="489" fill="url(#f158)"/><rect x="1372" y="44" width="7.6" height="489" fill="url(#f159)"/><rect x="1379" y="44" width="7.6" height="489" fill="url(#f160)"/><rect x="1386" y="44" width="7.6" height="489" fill="url(#f161)"/><rect x="1393" y="44" width="7.6" height="489" fill="url(#f162)"/><rect x="1400" y="44" width="7.6" height="489" fill="url(#f163)"/><rect x="1407" y="44" width="7.6" height="489" fill="url(#f164)"/><rect x="1414" y="44" width="7.6" height="489" fill="url(#f165)"/><rect x="1421" y="44" width="7.6" height="489" fill="url(#f166)"/><rect x="1428" y="44" width="7.6" height="489" fill="url(#f167)"/><rect x="1435" y="44" width="7.6" height="489" fill="url(#f168)"/><rect x="1442" y="44" width="7.6" height="489" fill="url(#f169)"/><rect x="1449" y="44" width="7.6" height="489" fill="url(#f170)"/><rect x="1456" y="44" width="7.6" height="489" fill="url(#f171)"/><rect x="1463" y="44" width="7.6" height="489" fill="url(#f172)"/><rect x="1470" y="44" width="7.6" height="489" fill="url(#f173)"/><rect x="1477" y="44" width="7.6" height="489" fill="url(#f174)"/><rect x="1484" y="44" width="7.6" height="489" fill="url(#f175)"/><rect x="1491" y="44" width="7.6" height="489" fill="url(#f176)"/><rect x="1498" y="44" width="7.6" height="489" fill="url(#f177)"/><rect x="1505" y="44" width="7.6" height="489" fill="url(#f178)"/><rect x="1512" y="44" width="7.6" height="489" fill="url(#f179)"/><rect x="1519" y="44" width="7.6" height="489" fill="url(#f180)"/><rect x="1526" y="44" width="3.6" height="489" fill="url(#f181)"/></svg>
<canvas id="fld" width="1650" height="634"></canvas>
<svg width="1650" height="634" viewBox="0 0 1650 634">
<defs>
<clipPath id="ca"><rect x="116.5" y="38.2" width="632.90" height="489.10"/></clipPath>
<clipPath id="cb"><rect x="895.6" y="44.6" width="632.90" height="489.00"/></clipPath>
<linearGradient id="cbg" x1="0" y1="0" x2="0" y2="1"><stop offset="0" stop-color="#f00"/><stop offset="0.244" stop-color="#ff0"/><stop offset="0.521" stop-color="#0f0"/><stop offset="0.766" stop-color="#0ff"/><stop offset="1" stop-color="#00f"/></linearGradient>
</defs>
<polyline points="398.0,37.0 402.6,40.9 416.3,49.7 430.0,63.4 449.6,79.1 463.3,88.9 475.0,100.6 484.8,114.3 492.6,124.1 500.4,135.8 508.2,147.5 514.1,156.0 547.4,170.6 586.5,186.3 625.6,203.9 643.2,211.7" class="dot" clip-path="url(#ca)"/>
<polyline points="690.2,231.3 713.6,241.1 746.9,254.8 752.0,257.0" class="dot" clip-path="url(#ca)"/>
<polyline points="130.0,37.0 135.6,40.0 146.3,43.5 175.7,54.5 205.0,65.5 234.4,79.5 253.9,89.8 265.7,95.7" class="dot" clip-path="url(#ca)"/>
<polyline points="309.7,120.2 322.4,129.0 342.0,141.7 357.6,155.4 373.8,165.3 393.6,173.9 413.5,182.4 430.0,188.3 449.6,196.1 469.1,204.9 504.3,219.5 527.8,230.3 566.9,247.9 606.0,264.5 647.1,279.0 713.6,300.0 746.9,307.8 752.0,309.0" class="dot" clip-path="url(#ca)"/>
<polyline points="117.0,239.7 120.9,241.0 156.1,253.7 195.2,272.0 212.8,279.0 253.9,291.7 290.0,304.0 322.4,315.2 333.9,318.5 369.1,328.5 408.2,340.0 430.0,347.0 469.1,358.7 508.2,372.4 547.4,384.1 586.5,395.8 609.0,400.7" class="dot" clip-path="url(#ca)"/>
<polyline points="649.1,428.4 664.7,441.2 680.4,456.8 696.0,476.4 709.7,496.0 723.4,525.3 726.0,531.0" class="dot" clip-path="url(#ca)"/>
<polyline points="117.0,390.8 120.9,391.7 156.1,401.5 195.2,413.3 234.4,425.0 273.5,438.7 308.7,449.4" class="dot" clip-path="url(#ca)"/>
<polyline points="361.5,471.9 390.8,486.6 416.3,502.2 432.0,511.6 449.6,524.3 455.0,529.0" class="dot" clip-path="url(#ca)"/>
<polyline points="117.0,159.8 156.1,173.5 195.2,190.1 234.4,206.7 273.5,222.4 312.6,237.0 335.9,247.0 371.3,261.4 394.8,272.3 408.2,278.0 447.4,291.6 475.0,300.0 486.5,303.4 508.2,311.0 525.6,316.5 547.4,324.0 564.7,328.5 586.5,333.3" class="dda" clip-path="url(#ca)"/>
<polyline points="633.4,346.9 664.7,356.7 703.8,368.5 746.9,380.2 752.0,381.5" class="dda" style="stroke-dashoffset:16.6" clip-path="url(#ca)"/>
<ellipse cx="748.5" cy="380.3" rx="2.6" ry="5" fill="#000" clip-path="url(#ca)"/>
<polyline points="1180.0,43.5 1185.5,45.0 1208.0,50.9 1216.0,52.8 1247.1,60.6 1286.2,68.5 1325.4,78.3 1364.5,88.0 1403.6,95.9 1421.2,100.7" class="dot" clip-path="url(#cb)"/>
<polyline points="1470.1,109.5 1501.4,117.4 1528.0,123.2 1531.0,124.0" class="dot" clip-path="url(#cb)"/>
<polyline points="893.0,58.6 896.0,59.1 921.4,63.6 954.7,78.3 993.8,93.9 1032.9,106.6 1072.0,121.3 1111.2,134.0 1150.3,144.8 1189.4,157.5 1212.0,166.4 1247.1,174.7 1286.2,182.5 1325.4,193.3 1364.5,203.0 1403.6,210.9 1418.3,213.8" class="dot" clip-path="url(#cb)"/>
<polyline points="1466.2,225.5 1491.6,232.4 1528.0,242.2 1531.0,243.0" class="dot" clip-path="url(#cb)"/>
<polyline points="893.0,267.7 896.0,268.6 903.8,271.0 935.1,281.7 974.2,295.4 1013.4,309.1 1052.5,322.8 1084.8,335.5" class="dot" clip-path="url(#cb)"/>
<polyline points="1142.5,354.1 1169.8,365.8 1208.0,381.0 1256.6,399.4 1305.2,416.4 1353.8,432.2 1402.4,448.0 1451.0,462.6 1499.5,479.6 1526.3,486.9 1531.0,488.2" class="dot" clip-path="url(#cb)"/>
<polyline points="949.4,432.0 986.8,449.0 1032.3,469.5 1077.7,488.8 1123.1,508.1 1168.5,529.7 1178.0,536.0" class="dot" clip-path="url(#cb)"/>
<polyline points="893.0,183.3 896.0,184.5 935.1,196.2 974.2,210.9 1013.4,225.5 1052.5,238.2 1091.6,251.0 1105.3,256.8 1130.7,264.6 1169.8,276.4 1185.5,282.2 1213.9,292.5 1247.1,301.3 1286.2,313.0 1325.4,325.7 1364.5,338.5" class="ddb" clip-path="url(#cb)"/>
<polyline points="1412.4,351.2 1442.7,360.6 1481.8,373.1 1528.0,385.9 1531.0,386.7" class="ddb" style="stroke-dashoffset:29.85" clip-path="url(#cb)"/>
<g clip-path="url(#ca)">
<polyline points="116.5,374.4 144.0,357.8 171.5,341.2 199.0,324.6 226.6,308.0 254.1,291.4 281.6,274.8 309.1,258.2 336.6,241.6 364.1,225.0 391.6,208.4 419.2,191.8 446.7,175.2 474.2,158.6 501.7,142.0 529.2,125.4 556.7,108.8 584.3,92.2 611.8,75.6 639.3,59.0 666.8,42.4" fill="none" stroke="#a8a8a8" stroke-width="0.6"/>
<polygon points="116.5,362.6 119.1,370.8 127.7,370.8 120.8,375.8 123.4,383.9 116.5,378.9 109.6,383.9 112.2,375.8 105.3,370.8 113.9,370.8" class="star"/>
<polygon points="144.0,346.0 146.7,354.2 155.2,354.2 148.3,359.2 151.0,367.3 144.0,362.3 137.1,367.3 139.7,359.2 132.8,354.2 141.4,354.2" class="star"/>
<polygon points="171.5,329.4 174.2,337.6 182.8,337.6 175.8,342.6 178.5,350.7 171.5,345.7 164.6,350.7 167.2,342.6 160.3,337.6 168.9,337.6" class="star"/>
<polygon points="199.0,312.8 201.7,321.0 210.3,321.0 203.3,326.0 206.0,334.1 199.0,329.1 192.1,334.1 194.8,326.0 187.8,321.0 196.4,321.0" class="star"/>
<polygon points="226.6,296.2 229.2,304.4 237.8,304.4 230.8,309.4 233.5,317.5 226.6,312.5 219.6,317.5 222.3,309.4 215.3,304.4 223.9,304.4" class="star"/>
<polygon points="254.1,279.6 256.7,287.8 265.3,287.8 258.4,292.8 261.0,300.9 254.1,295.9 247.1,300.9 249.8,292.8 242.9,287.8 251.4,287.8" class="star"/>
<polygon points="281.6,263.0 284.2,271.2 292.8,271.2 285.9,276.2 288.5,284.3 281.6,279.3 274.7,284.3 277.3,276.2 270.4,271.2 278.9,271.2" class="star"/>
<polygon points="309.1,246.4 311.8,254.6 320.3,254.6 313.4,259.6 316.0,267.7 309.1,262.7 302.2,267.7 304.8,259.6 297.9,254.6 306.5,254.6" class="star"/>
<polygon points="336.6,229.8 339.3,238.0 347.8,238.0 340.9,243.0 343.6,251.1 336.6,246.1 329.7,251.1 332.3,243.0 325.4,238.0 334.0,238.0" class="star"/>
<polygon points="364.1,213.2 366.8,221.4 375.4,221.4 368.4,226.4 371.1,234.5 364.1,229.5 357.2,234.5 359.8,226.4 352.9,221.4 361.5,221.4" class="star"/>
<polygon points="391.6,196.6 394.3,204.8 402.9,204.8 395.9,209.8 398.6,217.9 391.6,212.9 384.7,217.9 387.4,209.8 380.4,204.8 389.0,204.8" class="star"/>
<polygon points="419.2,180.0 421.8,188.2 430.4,188.2 423.5,193.2 426.1,201.3 419.2,196.3 412.2,201.3 414.9,193.2 407.9,188.2 416.5,188.2" class="star"/>
<polygon points="446.7,163.4 449.3,171.6 457.9,171.6 451.0,176.6 453.6,184.7 446.7,179.7 439.7,184.7 442.4,176.6 435.5,171.6 444.0,171.6" class="star"/>
<polygon points="474.2,146.8 476.8,155.0 485.4,155.0 478.5,160.0 481.1,168.1 474.2,163.1 467.3,168.1 469.9,160.0 463.0,155.0 471.5,155.0" class="star"/>
<polygon points="501.7,130.2 504.4,138.4 512.9,138.4 506.0,143.4 508.6,151.5 501.7,146.5 494.8,151.5 497.4,143.4 490.5,138.4 499.1,138.4" class="star"/>
<polygon points="529.2,113.6 531.9,121.8 540.4,121.8 533.5,126.8 536.2,134.9 529.2,129.9 522.3,134.9 524.9,126.8 518.0,121.8 526.6,121.8" class="star"/>
<polygon points="556.7,97.0 559.4,105.2 568.0,105.2 561.0,110.2 563.7,118.3 556.7,113.3 549.8,118.3 552.5,110.2 545.5,105.2 554.1,105.2" class="star"/>
<polygon points="584.3,80.4 586.9,88.6 595.5,88.6 588.5,93.6 591.2,101.7 584.3,96.7 577.3,101.7 580.0,93.6 573.0,88.6 581.6,88.6" class="star"/>
<polygon points="611.8,63.8 614.4,72.0 623.0,72.0 616.1,77.0 618.7,85.1 611.8,80.1 604.8,85.1 607.5,77.0 600.5,72.0 609.1,72.0" class="star"/>
<polygon points="639.3,47.2 641.9,55.4 650.5,55.4 643.6,60.4 646.2,68.5 639.3,63.5 632.3,68.5 635.0,60.4 628.1,55.4 636.6,55.4" class="star"/>
<polygon points="666.8,30.6 669.4,38.8 678.0,38.8 671.1,43.8 673.7,51.9 666.8,46.9 659.9,51.9 662.5,43.8 655.6,38.8 664.2,38.8" class="star"/>
</g>
<g clip-path="url(#cb)">
<polyline points="895.6,379.6 923.1,363.1 950.6,346.6 978.1,330.1 1005.7,313.6 1033.2,297.1 1060.7,280.6 1088.2,264.1 1115.7,247.6 1143.2,231.1 1170.8,214.6 1198.3,198.1 1225.8,181.6 1253.3,165.1 1280.8,148.6 1308.3,132.1 1335.8,115.6 1363.4,99.1 1390.9,82.6 1418.4,66.1 1445.9,49.6" fill="none" stroke="#a8a8a8" stroke-width="0.6"/>
<polygon points="895.6,367.8 898.2,376.0 906.8,376.0 899.9,381.0 902.5,389.1 895.6,384.1 888.7,389.1 891.3,381.0 884.4,376.0 893.0,376.0" class="star"/>
<polygon points="923.1,351.3 925.8,359.5 934.3,359.5 927.4,364.5 930.1,372.6 923.1,367.6 916.2,372.6 918.8,364.5 911.9,359.5 920.5,359.5" class="star"/>
<polygon points="950.6,334.8 953.3,343.0 961.9,343.0 954.9,348.0 957.6,356.1 950.6,351.1 943.7,356.1 946.3,348.0 939.4,343.0 948.0,343.0" class="star"/>
<polygon points="978.1,318.3 980.8,326.5 989.4,326.5 982.4,331.5 985.1,339.6 978.1,334.6 971.2,339.6 973.9,331.5 966.9,326.5 975.5,326.5" class="star"/>
<polygon points="1005.7,301.8 1008.3,310.0 1016.9,310.0 1009.9,315.0 1012.6,323.1 1005.7,318.1 998.7,323.1 1001.4,315.0 994.4,310.0 1003.0,310.0" class="star"/>
<polygon points="1033.2,285.3 1035.8,293.5 1044.4,293.5 1037.5,298.5 1040.1,306.6 1033.2,301.6 1026.2,306.6 1028.9,298.5 1022.0,293.5 1030.5,293.5" class="star"/>
<polygon points="1060.7,268.8 1063.3,277.0 1071.9,277.0 1065.0,282.0 1067.6,290.1 1060.7,285.1 1053.8,290.1 1056.4,282.0 1049.5,277.0 1058.0,277.0" class="star"/>
<polygon points="1088.2,252.3 1090.9,260.5 1099.4,260.5 1092.5,265.5 1095.1,273.6 1088.2,268.6 1081.3,273.6 1083.9,265.5 1077.0,260.5 1085.6,260.5" class="star"/>
<polygon points="1115.7,235.8 1118.4,244.0 1126.9,244.0 1120.0,249.0 1122.7,257.1 1115.7,252.1 1108.8,257.1 1111.4,249.0 1104.5,244.0 1113.1,244.0" class="star"/>
<polygon points="1143.2,219.3 1145.9,227.5 1154.5,227.5 1147.5,232.5 1150.2,240.6 1143.2,235.6 1136.3,240.6 1138.9,232.5 1132.0,227.5 1140.6,227.5" class="star"/>
<polygon points="1170.8,202.8 1173.4,211.0 1182.0,211.0 1175.0,216.0 1177.7,224.1 1170.8,219.1 1163.8,224.1 1166.5,216.0 1159.5,211.0 1168.1,211.0" class="star"/>
<polygon points="1198.3,186.3 1200.9,194.5 1209.5,194.5 1202.6,199.5 1205.2,207.6 1198.3,202.6 1191.3,207.6 1194.0,199.5 1187.0,194.5 1195.6,194.5" class="star"/>
<polygon points="1225.8,169.8 1228.4,178.0 1237.0,178.0 1230.1,183.0 1232.7,191.1 1225.8,186.1 1218.8,191.1 1221.5,183.0 1214.6,178.0 1223.1,178.0" class="star"/>
<polygon points="1253.3,153.3 1255.9,161.5 1264.5,161.5 1257.6,166.5 1260.2,174.6 1253.3,169.6 1246.4,174.6 1249.0,166.5 1242.1,161.5 1250.6,161.5" class="star"/>
<polygon points="1280.8,136.8 1283.5,145.0 1292.0,145.0 1285.1,150.0 1287.7,158.1 1280.8,153.1 1273.9,158.1 1276.5,150.0 1269.6,145.0 1278.2,145.0" class="star"/>
<polygon points="1308.3,120.3 1311.0,128.5 1319.5,128.5 1312.6,133.5 1315.3,141.6 1308.3,136.6 1301.4,141.6 1304.0,133.5 1297.1,128.5 1305.7,128.5" class="star"/>
<polygon points="1335.8,103.8 1338.5,112.0 1347.1,112.0 1340.1,117.0 1342.8,125.1 1335.8,120.1 1328.9,125.1 1331.6,117.0 1324.6,112.0 1333.2,112.0" class="star"/>
<polygon points="1363.4,87.3 1366.0,95.5 1374.6,95.5 1367.6,100.5 1370.3,108.6 1363.4,103.6 1356.4,108.6 1359.1,100.5 1352.1,95.5 1360.7,95.5" class="star"/>
<polygon points="1390.9,70.8 1393.5,79.0 1402.1,79.0 1395.2,84.0 1397.8,92.1 1390.9,87.1 1383.9,92.1 1386.6,84.0 1379.6,79.0 1388.2,79.0" class="star"/>
<polygon points="1418.4,54.3 1421.0,62.5 1429.6,62.5 1422.7,67.5 1425.3,75.6 1418.4,70.6 1411.4,75.6 1414.1,67.5 1407.2,62.5 1415.7,62.5" class="star"/>
<polygon points="1445.9,37.8 1448.5,46.0 1457.1,46.0 1450.2,51.0 1452.8,59.1 1445.9,54.1 1439.0,59.1 1441.6,51.0 1434.7,46.0 1443.3,46.0" class="star"/>
</g>
<line x1="144.02" y1="527.3" x2="144.02" y2="512.3" class="tk"/>
<line x1="144.02" y1="38.2" x2="144.02" y2="53.2" class="tk"/>
<line x1="199.05" y1="527.3" x2="199.05" y2="519.3" class="tk"/>
<line x1="199.05" y1="38.2" x2="199.05" y2="46.2" class="tk"/>
<line x1="254.09" y1="527.3" x2="254.09" y2="512.3" class="tk"/>
<line x1="254.09" y1="38.2" x2="254.09" y2="53.2" class="tk"/>
<line x1="309.12" y1="527.3" x2="309.12" y2="519.3" class="tk"/>
<line x1="309.12" y1="38.2" x2="309.12" y2="46.2" class="tk"/>
<line x1="364.16" y1="527.3" x2="364.16" y2="512.3" class="tk"/>
<line x1="364.16" y1="38.2" x2="364.16" y2="53.2" class="tk"/>
<line x1="419.19" y1="527.3" x2="419.19" y2="519.3" class="tk"/>
<line x1="419.19" y1="38.2" x2="419.19" y2="46.2" class="tk"/>
<line x1="474.23" y1="527.3" x2="474.23" y2="512.3" class="tk"/>
<line x1="474.23" y1="38.2" x2="474.23" y2="53.2" class="tk"/>
<line x1="529.26" y1="527.3" x2="529.26" y2="519.3" class="tk"/>
<line x1="529.26" y1="38.2" x2="529.26" y2="46.2" class="tk"/>
<line x1="584.30" y1="527.3" x2="584.30" y2="512.3" class="tk"/>
<line x1="584.30" y1="38.2" x2="584.30" y2="53.2" class="tk"/>
<line x1="639.33" y1="527.3" x2="639.33" y2="519.3" class="tk"/>
<line x1="639.33" y1="38.2" x2="639.33" y2="46.2" class="tk"/>
<line x1="694.37" y1="527.3" x2="694.37" y2="512.3" class="tk"/>
<line x1="694.37" y1="38.2" x2="694.37" y2="53.2" class="tk"/>
<line x1="116.5" y1="527.30" x2="131.5" y2="527.30" class="tk"/>
<line x1="749.4" y1="527.30" x2="734.4" y2="527.30" class="tk"/>
<line x1="116.5" y1="466.16" x2="124.5" y2="466.16" class="tk"/>
<line x1="749.4" y1="466.16" x2="741.4" y2="466.16" class="tk"/>
<line x1="116.5" y1="405.02" x2="131.5" y2="405.02" class="tk"/>
<line x1="749.4" y1="405.02" x2="734.4" y2="405.02" class="tk"/>
<line x1="116.5" y1="343.89" x2="124.5" y2="343.89" class="tk"/>
<line x1="749.4" y1="343.89" x2="741.4" y2="343.89" class="tk"/>
<line x1="116.5" y1="282.75" x2="131.5" y2="282.75" class="tk"/>
<line x1="749.4" y1="282.75" x2="734.4" y2="282.75" class="tk"/>
<line x1="116.5" y1="221.61" x2="124.5" y2="221.61" class="tk"/>
<line x1="749.4" y1="221.61" x2="741.4" y2="221.61" class="tk"/>
<line x1="116.5" y1="160.47" x2="131.5" y2="160.47" class="tk"/>
<line x1="749.4" y1="160.47" x2="734.4" y2="160.47" class="tk"/>
<line x1="116.5" y1="99.34" x2="124.5" y2="99.34" class="tk"/>
<line x1="749.4" y1="99.34" x2="741.4" y2="99.34" class="tk"/>
<line x1="116.5" y1="38.20" x2="131.5" y2="38.20" class="tk"/>
<line x1="749.4" y1="38.20" x2="734.4" y2="38.20" class="tk"/>
<rect x="116.5" y="38.2" width="632.90" height="489.10" class="frame"/>
<text x="143.52" y="567.30" class="tl" text-anchor="middle">100</text>
<text x="253.59" y="567.30" class="tl" text-anchor="middle">300</text>
<text x="363.66" y="567.30" class="tl" text-anchor="middle">500</text>
<text x="473.73" y="567.30" class="tl" text-anchor="middle">700</text>
<text x="583.80" y="567.30" class="tl" text-anchor="middle">900</text>
<text x="693.87" y="567.30" class="tl" text-anchor="middle">1100</text>
<text x="100.60" y="535.50" class="tl" text-anchor="end">2.62</text>
<text x="100.60" y="413.22" class="tl" text-anchor="end">2.64</text>
<text x="100.60" y="290.95" class="tl" text-anchor="end">2.66</text>
<text x="100.60" y="168.67" class="tl" text-anchor="end">2.68</text>
<text x="100.60" y="46.40" class="tl" text-anchor="end">2.70</text>
<text x="115.20" y="22.80" class="pl">(a)</text>
<text x="386.50" y="626.00" class="at"><tspan font-style="italic">T</tspan> (K)</text>
<text transform="translate(28.00,378.00) rotate(-90)" class="at"><tspan class="wi">w</tspan><tspan letter-spacing="0.7"> (Bohr)</tspan></text>
<line x1="923.12" y1="533.6" x2="923.12" y2="518.6" class="tk"/>
<line x1="923.12" y1="44.6" x2="923.12" y2="59.6" class="tk"/>
<line x1="978.15" y1="533.6" x2="978.15" y2="525.6" class="tk"/>
<line x1="978.15" y1="44.6" x2="978.15" y2="52.6" class="tk"/>
<line x1="1033.19" y1="533.6" x2="1033.19" y2="518.6" class="tk"/>
<line x1="1033.19" y1="44.6" x2="1033.19" y2="59.6" class="tk"/>
<line x1="1088.22" y1="533.6" x2="1088.22" y2="525.6" class="tk"/>
<line x1="1088.22" y1="44.6" x2="1088.22" y2="52.6" class="tk"/>
<line x1="1143.26" y1="533.6" x2="1143.26" y2="518.6" class="tk"/>
<line x1="1143.26" y1="44.6" x2="1143.26" y2="59.6" class="tk"/>
<line x1="1198.29" y1="533.6" x2="1198.29" y2="525.6" class="tk"/>
<line x1="1198.29" y1="44.6" x2="1198.29" y2="52.6" class="tk"/>
<line x1="1253.33" y1="533.6" x2="1253.33" y2="518.6" class="tk"/>
<line x1="1253.33" y1="44.6" x2="1253.33" y2="59.6" class="tk"/>
<line x1="1308.36" y1="533.6" x2="1308.36" y2="525.6" class="tk"/>
<line x1="1308.36" y1="44.6" x2="1308.36" y2="52.6" class="tk"/>
<line x1="1363.40" y1="533.6" x2="1363.40" y2="518.6" class="tk"/>
<line x1="1363.40" y1="44.6" x2="1363.40" y2="59.6" class="tk"/>
<line x1="1418.43" y1="533.6" x2="1418.43" y2="525.6" class="tk"/>
<line x1="1418.43" y1="44.6" x2="1418.43" y2="52.6" class="tk"/>
<line x1="1473.47" y1="533.6" x2="1473.47" y2="518.6" class="tk"/>
<line x1="1473.47" y1="44.6" x2="1473.47" y2="59.6" class="tk"/>
<line x1="895.6" y1="533.60" x2="910.6" y2="533.60" class="tk"/>
<line x1="1528.5" y1="533.60" x2="1513.5" y2="533.60" class="tk"/>
<line x1="895.6" y1="472.48" x2="903.6" y2="472.48" class="tk"/>
<line x1="1528.5" y1="472.48" x2="1520.5" y2="472.48" class="tk"/>
<line x1="895.6" y1="411.35" x2="910.6" y2="411.35" class="tk"/>
<line x1="1528.5" y1="411.35" x2="1513.5" y2="411.35" class="tk"/>
<line x1="895.6" y1="350.23" x2="903.6" y2="350.23" class="tk"/>
<line x1="1528.5" y1="350.23" x2="1520.5" y2="350.23" class="tk"/>
<line x1="895.6" y1="289.10" x2="910.6" y2="289.10" class="tk"/>
<line x1="1528.5" y1="289.10" x2="1513.5" y2="289.10" class="tk"/>
<line x1="895.6" y1="227.98" x2="903.6" y2="227.98" class="tk"/>
<line x1="1528.5" y1="227.98" x2="1520.5" y2="227.98" class="tk"/>
<line x1="895.6" y1="166.85" x2="910.6" y2="166.85" class="tk"/>
<line x1="1528.5" y1="166.85" x2="1513.5" y2="166.85" class="tk"/>
<line x1="895.6" y1="105.73" x2="903.6" y2="105.73" class="tk"/>
<line x1="1528.5" y1="105.73" x2="1520.5" y2="105.73" class="tk"/>
<line x1="895.6" y1="44.60" x2="910.6" y2="44.60" class="tk"/>
<line x1="1528.5" y1="44.60" x2="1513.5" y2="44.60" class="tk"/>
<rect x="895.6" y="44.6" width="632.90" height="489.00" class="frame"/>
<text x="922.62" y="573.70" class="tl" text-anchor="middle">100</text>
<text x="1032.69" y="573.70" class="tl" text-anchor="middle">300</text>
<text x="1142.76" y="573.70" class="tl" text-anchor="middle">500</text>
<text x="1252.83" y="573.70" class="tl" text-anchor="middle">700</text>
<text x="1362.90" y="573.70" class="tl" text-anchor="middle">900</text>
<text x="1472.97" y="573.70" class="tl" text-anchor="middle">1100</text>
<text x="879.70" y="541.80" class="tl" text-anchor="end">2.62</text>
<text x="879.70" y="419.55" class="tl" text-anchor="end">2.64</text>
<text x="879.70" y="297.30" class="tl" text-anchor="end">2.66</text>
<text x="879.70" y="175.05" class="tl" text-anchor="end">2.68</text>
<text x="879.70" y="52.80" class="tl" text-anchor="end">2.70</text>
<text x="894.30" y="29.20" class="pl">(b)</text>
<text x="1165.60" y="626.00" class="at"><tspan font-style="italic">T</tspan> (K)</text>
<text transform="translate(807.10,384.40) rotate(-90)" class="at"><tspan class="wi">w</tspan><tspan letter-spacing="0.7"> (Bohr)</tspan></text>
<text x="263.0" y="118.2" class="cl">0.15</text>
<text x="643.6" y="230.0" class="cl">0.25</text>
<text x="586.5" y="349.8" class="cl">0.00</text>
<text x="612.3" y="424.0" class="cl">-0.13</text>
<text x="307.6" y="472.6" class="cl">-0.40</text>
<text x="464.6" y="229.1" class="tx">fcc stable</text>
<text x="463.9" y="447.7" class="tx">hcp stable</text>
<line x1="356.9" y1="100.5" x2="356.9" y2="134" stroke="#000" stroke-width="1.6"/>
<polygon points="351.9,131 361.9,131 356.9,150" fill="#000"/>
<line x1="496.6" y1="71.5" x2="496.6" y2="105.5" stroke="#000" stroke-width="1.6"/>
<polygon points="491.6,102.5 501.6,102.5 496.6,121.5" fill="#000"/>
<line x1="680.8" y1="393" x2="680.8" y2="427" stroke="#000" stroke-width="1.6"/>
<polygon points="675.8,424 685.8,424 680.8,443" fill="#000"/>
<text x="1422.5" y="114.8" class="cl">0.25</text>
<text x="1419.6" y="230.5" class="cl">0.15</text>
<text x="1366.4" y="356.9" class="cl">0.00</text>
<text x="1087.2" y="355.8" class="cl">-0.13</text>
<text x="896.8" y="429.5" class="cl">-0.40</text>
<text x="1313.5" y="187.4" class="tx">fcc stable</text>
<text x="1310.0" y="477.3" class="tx">hcp stable</text>
<line x1="328.6" y1="245" x2="328.6" y2="525.8" stroke="#fff" stroke-width="2.6" stroke-dasharray="11.8 13" stroke-dashoffset="5.0"/>
<line x1="1105.1" y1="257" x2="1105.1" y2="532.1" stroke="#fff" stroke-width="2.6" stroke-dasharray="11.8 13" stroke-dashoffset="11"/>
<text x="295.4" y="408.9" class="tx2"><tspan font-style="italic">T</tspan>=438 K</text>
<text x="1072.9" y="441.8" class="tx2"><tspan font-style="italic">T</tspan>=430 K</text>
<rect x="1544.3" y="82" width="46.7" height="407.6" fill="url(#cbg)"/>
<text x="1596" y="92.2" class="cb">0.40</text>
<text x="1596" y="143.2" class="cb">0.25</text>
<text x="1596" y="194.2" class="cb">0.11</text>
<text x="1596" y="245.2" class="cb">-0.00</text>
<text x="1596" y="296.2" class="cb">-0.14</text>
<text x="1596" y="347.2" class="cb">-0.30</text>
<text x="1596" y="398.1" class="cb">-0.44</text>
<text x="1596" y="449.1" class="cb">-0.60</text>
<text x="1596" y="500.1" class="cb">-0.75</text>
<text x="1556" y="60.8" class="mry">mRy</text>
</svg>
<script>(function(){
var F=[{"x0":117,"x1":749,"y0":38,"y1":527,"curves":[[[403,37,0.1304],[430,37,0.124],[528,37,0.098],[586,37,0.076],[645,37,0.044],[704,37,0.018],[752,37,0.0]],[[540,37,0.0944],[570,115,0.085],[600,148,0.072],[645,154,0.044],[700,158,0.019],[752,165,0.0]],[[100,-80,0.1304],[300,-20,0.1304],[380,24,0.1304],[402.6,40.9,0.1304],[416.3,49.7,0.1304],[430,63.4,0.1304],[449.6,79.1,0.1304],[463.3,88.9,0.1304],[475,100.6,0.1304],[484.8,114.3,0.1304],[492.6,124.1,0.1304],[500.4,135.8,0.1304],[508.2,147.5,0.1304],[514.1,156,0.1304],[547.4,170.6,0.1304],[586.5,186.3,0.1304],[625.6,203.9,0.1304],[643.2,211.7,0.1304],[666,221.5,0.1304],[690.2,231.3,0.1304],[713.6,241.1,0.1304],[746.9,254.8,0.1304],[760,260,0.1304]],[[100,27,0.2174],[135.6,40,0.2174],[146.3,43.5,0.2174],[175.7,54.5,0.2174],[205,65.5,0.2174],[234.4,79.5,0.2174],[253.9,89.8,0.2174],[265.7,95.7,0.2174],[288,107.5,0.2174],[309.7,120.2,0.2174],[322.4,129,0.2174],[342,141.7,0.2174],[357.6,155.4,0.2174],[373.8,165.3,0.2174],[393.6,173.9,0.2174],[413.5,182.4,0.2174],[430,188.3,0.2174],[449.6,196.1,0.2174],[469.1,204.9,0.2174],[504.3,219.5,0.2174],[527.8,230.3,0.2174],[566.9,247.9,0.2174],[606,264.5,0.2174],[647.1,279,0.2174],[713.6,300,0.2174],[746.9,307.8,0.2174],[760,311,0.2174]],[[100,66,0.244],[117,71,0.244],[175.7,99,0.244],[234,126,0.244],[293,149,0.244],[365,185,0.244],[420,205,0.244],[470,226,0.244],[525,250,0.244],[584,274,0.244],[650,296.5,0.244],[748,318,0.244],[760,320,0.244]],[[100,153,0.3478],[117,159.8,0.3478],[156.1,173.5,0.3478],[195.2,190.1,0.3478],[234.4,206.7,0.3478],[273.5,222.4,0.3478],[312.6,237,0.3478],[335.9,247,0.3478],[371.3,261.4,0.3478],[394.8,272.3,0.3478],[408.2,278,0.3478],[447.4,291.6,0.3478],[475,300,0.3478],[486.5,303.4,0.3478],[508.2,311,0.3478],[525.6,316.5,0.3478],[547.4,324,0.3478],[564.7,328.5,0.3478],[586.5,333.3,0.3478],[610,340,0.3478],[633.4,346.9,0.3478],[664.7,356.7,0.3478],[703.8,368.5,0.3478],[746.9,380.2,0.3478],[760,384,0.3478]],[[100,234,0.4609],[120.9,241,0.4609],[156.1,253.7,0.4609],[195.2,272,0.4609],[212.8,279,0.4609],[253.9,291.7,0.4609],[290,304,0.4609],[322.4,315.2,0.4609],[333.9,318.5,0.4609],[369.1,328.5,0.4609],[408.2,340,0.4609],[430,347,0.4609],[469.1,358.7,0.4609],[508.2,372.4,0.4609],[547.4,384.1,0.4609],[586.5,395.8,0.4609],[609,400.7,0.4609],[630,413,0.4609],[649.1,428.4,0.4609],[664.7,441.2,0.4609],[680.4,456.8,0.4609],[696,476.4,0.4609],[709.7,496,0.4609],[723.4,525.3,0.4609],[740,545,0.4609],[760,570,0.4609]],[[100,387,0.6957],[120.9,391.7,0.6957],[156.1,401.5,0.6957],[195.2,413.3,0.6957],[234.4,425,0.6957],[273.5,438.7,0.6957],[308.7,449.4,0.6957],[335,460,0.6957],[361.5,471.9,0.6957],[390.8,486.6,0.6957],[416.3,502.2,0.6957],[432,511.6,0.6957],[449.6,524.3,0.6957],[470,540,0.6957],[600,600,0.6957],[760,680,0.6957]],[[100,408,0.75],[117,415,0.75],[175.7,434,0.75],[234,451,0.75],[280,466,0.75],[320,484,0.75],[355,505,0.75],[382,526,0.75],[420,550,0.75],[500,590,0.75],[760,700,0.75]],[[100,447,0.875],[117,455,0.875],[214,502,0.875],[280,530,0.875],[400,600,0.875],[760,760,0.875]],[[100,518,1.0],[117,526,1.0],[200,560,1.0],[400,680,1.0],[760,800,1.0]],[[100,-5.1000000000000085,0.17],[110,-1.6438202247191072,0.17],[120,1.8123595505617942,0.17],[130,5.268539325842696,0.17],[140,8.607476635514004,0.17],[150,11.919047619047618,0.17],[160,15.43809523809523,0.17],[170,18.957142857142856,0.17],[180,22.48003412969284,0.17],[190,26.008020477815705,0.17],[200,29.536006825938557,0.17],[210,33.41666666666666,0.17],[220,37.64999999999999,0.17],[230,41.883333333333326,0.17],[240,46.32056410256409,0.17],[250,50.91799999999999,0.17],[260,55.394999999999996,0.17],[270,59.88273542600896,0.17],[280,64.48677130044842,0.17],[290,69.16935483870967,0.17],[300,74.16612903225806,0.17],[310,79.93551181102362,0.17],[320,86.43590551181103,0.17],[330,92.69714285714285,0.17],[340,98.88285714285713,0.17],[350,106.3579487179487,0.17],[360,113.70666666666666,0.17],[370,119.63444444444444,0.17],[380,124.7950505050505,0.17],[390,130.07881737731293,0.17],[400,135.33029350291278,0.17],[410,140.32950298939954,0.17],[420,145.32696969696968,0.17],[430,150.82999999999998,0.17],[440,156.01877551020408,0.17],[450,161.21219839041734,0.17],[460,166.51715815085157,0.17],[470,172.37130681818184,0.17],[480,178.87165468460108,0.17],[490,185.748125,0.17],[500,192.9615340909091,0.17],[510,200.51166822935448,0.17],[520,206.27675944029136,0.17],[530,210.79454828229768,0.17],[540,215.26075873827793,0.17],[550,219.69818414322253,0.17],[560,224.05368286445014,0.17],[570,228.35368286445012,0.17],[580,232.53015345268543,0.17],[590,236.75764705882355,0.17],[600,241.07989769820972,0.17],[610,245.2012360844052,0.17],[620,249.02120609081462,0.17],[630,252.8320072992701,0.17],[640,256.63113912851134,0.17],[650,260.3278947368421,0.17],[660,263.8278947368421,0.17],[670,267.298055676381,0.17],[680,270.72345802522835,0.17],[690,274.1488603740757,0.17],[700,277.6149662618083,0.17],[710,281.0819028340081,0.17],[720,284.1692792792793,0.17],[730,287.0431531531532,0.17],[740,289.917027027027,0.17],[750,292.79923664122134,0.17],[760,295.7,0.17]]],"margin":30,"blur":3},{"x0":896,"x1":1528,"y0":44,"y1":533,"curves":[[[1185,43,0.1304],[1300,43,0.113],[1400,43,0.098],[1540,43,0.07]],[[880,-35,0.1304],[1000,-3,0.1304],[1100,23,0.1304],[1185.5,45,0.1304],[1208,50.9,0.1304],[1216,52.8,0.1304],[1247.1,60.6,0.1304],[1286.2,68.5,0.1304],[1325.4,78.3,0.1304],[1364.5,88,0.1304],[1403.6,95.9,0.1304],[1421.2,100.7,0.1304],[1445,105,0.1304],[1470.1,109.5,0.1304],[1501.4,117.4,0.1304],[1528,123.2,0.1304],[1540,126,0.1304]],[[880,56.5,0.2174],[896,59.1,0.2174],[921.4,63.6,0.2174],[954.7,78.3,0.2174],[993.8,93.9,0.2174],[1032.9,106.6,0.2174],[1072,121.3,0.2174],[1111.2,134,0.2174],[1150.3,144.8,0.2174],[1189.4,157.5,0.2174],[1212,166.4,0.2174],[1247.1,174.7,0.2174],[1286.2,182.5,0.2174],[1325.4,193.3,0.2174],[1364.5,203,0.2174],[1403.6,210.9,0.2174],[1418.3,213.8,0.2174],[1442,219.6,0.2174],[1466.2,225.5,0.2174],[1491.6,232.4,0.2174],[1528,242.2,0.2174],[1540,245.5,0.2174]],[[880,100,0.244],[896,108,0.244],[993.8,135,0.244],[1100,165,0.244],[1208,200,0.244],[1364.5,240,0.244],[1528,268,0.244],[1540,270,0.244]],[[880,180,0.3478],[896,184.5,0.3478],[935.1,196.2,0.3478],[974.2,210.9,0.3478],[1013.4,225.5,0.3478],[1052.5,238.2,0.3478],[1091.6,251,0.3478],[1105.3,256.8,0.3478],[1130.7,264.6,0.3478],[1169.8,276.4,0.3478],[1185.5,282.2,0.3478],[1213.9,292.5,0.3478],[1247.1,301.3,0.3478],[1286.2,313,0.3478],[1325.4,325.7,0.3478],[1364.5,338.5,0.3478],[1388,345.3,0.3478],[1412.4,352.2,0.3478],[1442.7,361.9,0.3478],[1481.8,374.6,0.3478],[1528,387.4,0.3478],[1540,391,0.3478]],[[880,263.5,0.4609],[896,268.6,0.4609],[903.8,271,0.4609],[935.1,281.7,0.4609],[974.2,295.4,0.4609],[1013.4,309.1,0.4609],[1052.5,322.8,0.4609],[1084.8,335.5,0.4609],[1113,344.8,0.4609],[1142.5,354.1,0.4609],[1169.8,365.8,0.4609],[1208,381,0.4609],[1256.6,399.4,0.4609],[1305.2,416.4,0.4609],[1353.8,432.2,0.4609],[1402.4,448,0.4609],[1451,462.6,0.4609],[1499.5,479.6,0.4609],[1526.3,486.9,0.4609],[1540,490.5,0.4609]],[[880,401,0.6957],[896,408,0.6957],[923,420,0.6957],[949.4,432,0.6957],[986.8,449,0.6957],[1032.3,469.5,0.6957],[1077.7,488.8,0.6957],[1123.1,508.1,0.6957],[1168.5,529.7,0.6957],[1176,534,0.6957],[1300,600,0.6957],[1540,700,0.6957]],[[880,433,0.75],[896,440,0.75],[941.4,458.1,0.75],[986.8,478.6,0.75],[1032.3,499,0.75],[1077.7,521.7,0.75],[1095.9,534,0.75],[1200,590,0.75],[1540,750,0.75]],[[880,463,0.875],[896,470,0.875],[960,534,0.875],[1200,650,0.875],[1540,800,0.875]],[[880,530,1.0],[896,537,1.0],[940,570,1.0],[1200,720,1.0],[1540,900,1.0]],[[880,29.049999999999997,0.17],[890,30.987499999999997,0.17],[900,32.966062992125984,0.17],[910,35.00622047244094,0.17],[920,37.046377952755904,0.17],[930,40.67747747747747,0.17],[940,44.56756756756756,0.17],[950,48.457657657657634,0.17],[960,52.190204603580554,0.17],[970,55.783043478260865,0.17],[980,59.375882352941176,0.17],[990,62.96872122762149,0.17],[1000,66.2396675191816,0.17],[1010,69.29332480818414,0.17],[1020,72.34698209718668,0.17],[1030,75.40063938618923,0.17],[1040,78.7085166240409,0.17],[1050,82.12023017902811,0.17],[1060,85.53194373401533,0.17],[1070,88.94365728900254,0.17],[1080,92.0642857142857,0.17],[1090,95.11214285714284,0.17],[1100,98.16,0.17],[1110,101.19978696741855,0.17],[1120,103.94534302508187,0.17],[1130,106.65077668596044,0.17],[1140,109.35621034683896,0.17],[1150,112.06164400771752,0.17],[1160,115.0970265177009,0.17],[1170,118.14261363126487,0.17],[1180,121.1882007448288,0.17],[1190,124.26939823008846,0.17],[1200,127.81270206489674,0.17],[1210,131.34117256637165,0.17],[1220,133.94518115444163,0.17],[1230,136.35286338527496,0.17],[1240,138.76054561610832,0.17],[1250,141.05074168797955,0.17],[1260,143.05329923273658,0.17],[1270,145.0558567774936,0.17],[1280,147.05841432225063,0.17],[1290,149.31785714285712,0.17],[1300,151.99642857142857,0.17],[1310,154.67499999999998,0.17],[1320,157.3535714285714,0.17],[1330,159.94117647058823,0.17],[1340,162.42199488491048,0.17],[1350,164.90281329923272,0.17],[1360,167.383631713555,0.17],[1370,169.61125319693093,0.17],[1380,171.63171355498721,0.17],[1390,173.6521739130435,0.17],[1400,175.67263427109975,0.17],[1410,177.8074458874459,0.17],[1420,180.06304181051019,0.17],[1430,182.35127858738434,0.17],[1440,184.6063755628834,0.17],[1450,186.85421355898717,0.17],[1460,189.0986737348128,0.17],[1470,191.41721993914106,0.17],[1480,194.073789841765,0.17],[1490,196.73255314331715,0.17],[1500,199.37707053330058,0.17],[1510,201.93024869866974,0.17],[1520,204.468999421631,0.17],[1530,207.02499999999998,0.17],[1540,209.64999999999998,0.17]]],"margin":30,"blur":3}];
var cv=document.getElementById('fld');var ctx=cv.getContext('2d');
function rb(t){if(t<0)t=0;if(t>1)t=1;var r,g,b;
var S1=0.244,S2=0.521,S3=0.766;
if(t<S1){r=255;g=255*t/S1;b=0;}else if(t<S2){r=255*(S2-t)/(S2-S1);g=255;b=0;}
else if(t<S3){r=0;g=255;b=255*(t-S2)/(S3-S2);}else{r=0;g=255*(1-t)/(1-S3);b=255;}
return [r,g,b];}
function at(c,x){var n=c.length;if(x<c[0][0]||x>c[n-1][0])return null;
for(var i=0;i<n-1;i++){if(x>=c[i][0]&&x<=c[i+1][0]){var d=c[i+1][0]-c[i][0];var f=d>0?(x-c[i][0])/d:0;
return [c[i][1]+f*(c[i+1][1]-c[i][1]),c[i][2]+f*(c[i+1][2]-c[i][2])];}}return null;}
function blur(a,W,H,R,horiz){var out=new Float32Array(W*H);var n=2*R+1;
if(horiz){for(var y=0;y<H;y++){var o=y*W;var s=0;for(var i=-R;i<=R;i++){s+=a[o+Math.min(W-1,Math.max(0,i))];}
for(var x=0;x<W;x++){out[o+x]=s/n;var ai=Math.min(W-1,x+R+1),ri=Math.max(0,x-R);s+=a[o+ai]-a[o+ri];}}}
else{for(var x=0;x<W;x++){var s=0;for(var i=-R;i<=R;i++){s+=a[Math.min(H-1,Math.max(0,i))*W+x];}
for(var y=0;y<H;y++){out[y*W+x]=s/n;var ai=Math.min(H-1,y+R+1),ri=Math.max(0,y-R);s+=a[ai*W+x]-a[ri*W+x];}}}
return out;}
for(var p=0;p<F.length;p++){var P=F[p];var M=P.margin||0;var R=P.blur||0;
var X0=P.x0-M,Y0=P.y0-M,GW=P.x1-P.x0+2*M,GH=P.y1-P.y0+2*M;
var T=new Float32Array(GW*GH);
for(var i=0;i<GW;i++){var x=X0+i+0.5;var k=[];
for(var c=0;c<P.curves.length;c++){var v=at(P.curves[c],x);if(v)k.push(v);}
k.sort(function(a,b){return a[0]-b[0];});var n=k.length;var j=0;
for(var r=0;r<GH;r++){var y=Y0+r+0.5;var t;
while(j<n&&k[j][0]<y)j++;
if(n==0)t=0.5;else if(j==0)t=k[0][1];else if(j>=n)t=k[n-1][1];
else{var a=k[j-1],b=k[j];var s=(y-a[0])/(b[0]-a[0]);t=a[1]+s*(b[1]-a[1]);}
T[r*GW+i]=t;}}
if(R>0){for(var pass=0;pass<3;pass++){T=blur(T,GW,GH,R,true);T=blur(T,GW,GH,R,false);}}
var W=P.x1-P.x0,H=P.y1-P.y0;var img=ctx.createImageData(W,H);var d=img.data;
for(var r=0;r<H;r++){for(var i=0;i<W;i++){var col=rb(T[(r+M)*GW+(i+M)]);var o=(r*W+i)*4;d[o]=col[0];d[o+1]=col[1];d[o+2]=col[2];d[o+3]=255;}}
ctx.putImageData(img,P.x0,P.y0);}
})();
</script>
</body></html>
